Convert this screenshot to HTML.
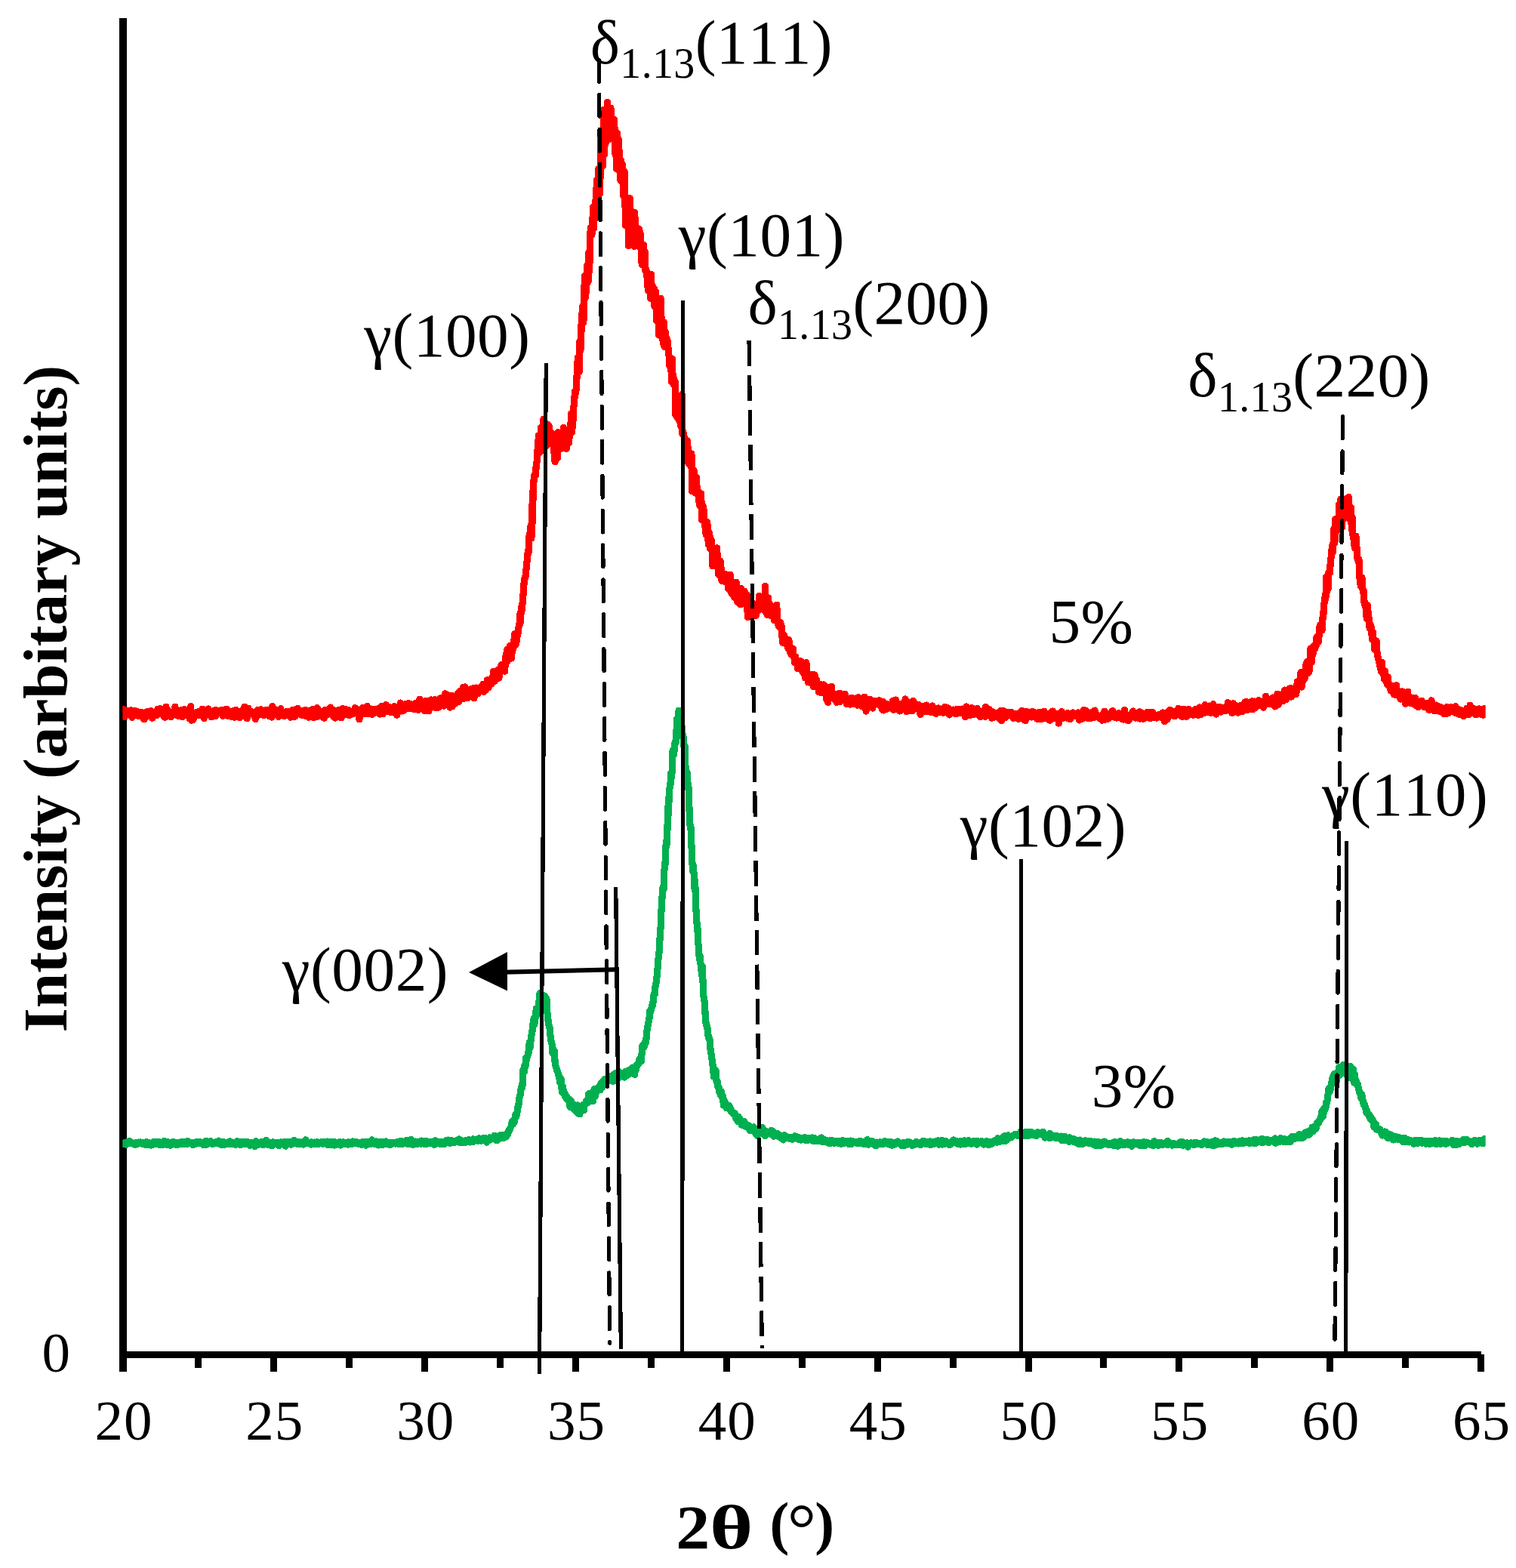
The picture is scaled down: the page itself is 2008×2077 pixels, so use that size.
<!DOCTYPE html>
<html lang="en">
<head>
<meta charset="utf-8">
<title>XRD patterns</title>
<style>
html,body{margin:0;padding:0;background:#fff;}
body{width:2008px;height:2077px;overflow:hidden;}
svg{display:block;}
text{font-family:"Liberation Serif","DejaVu Serif",serif;fill:#000;font-kerning:none;}
.t{font-size:75px;text-anchor:middle;letter-spacing:1px;}
.a{font-size:83.3px;letter-spacing:0.5px;}
.d{font-size:83.3px;letter-spacing:0.35px;}
.s{font-size:56px;}
.b{font-size:83.3px;font-weight:bold;}
</style>
</head>
<body>
<svg width="2008" height="2077" viewBox="0 0 2008 2077">
<rect width="2008" height="2077" fill="#fff"/>
<g fill="#000" shape-rendering="crispEdges">
<rect x="158" y="24" width="10" height="1793"/>
<rect x="158" y="1790" width="1804" height="9"/>
<rect x="358" y="1794" width="9" height="23"/>
<rect x="558" y="1794" width="9" height="23"/>
<rect x="758" y="1794" width="9" height="23"/>
<rect x="958" y="1794" width="9" height="23"/>
<rect x="1158" y="1794" width="9" height="23"/>
<rect x="1358" y="1794" width="9" height="23"/>
<rect x="1557" y="1794" width="9" height="23"/>
<rect x="1757" y="1794" width="9" height="23"/>
<rect x="1957" y="1794" width="9" height="23"/>
<rect x="258" y="1794" width="9" height="18"/>
<rect x="458" y="1794" width="9" height="18"/>
<rect x="658" y="1794" width="9" height="18"/>
<rect x="858" y="1794" width="9" height="18"/>
<rect x="1058" y="1794" width="9" height="18"/>
<rect x="1258" y="1794" width="9" height="18"/>
<rect x="1457" y="1794" width="9" height="18"/>
<rect x="1657" y="1794" width="9" height="18"/>
<rect x="1857" y="1794" width="9" height="18"/>
</g>
<clipPath id="plot"><rect x="162.3" y="0" width="1805.4" height="1790"/></clipPath>
<g clip-path="url(#plot)">
<polyline fill="none" stroke="#ff0000" stroke-width="9.2" stroke-linejoin="round" stroke-linecap="butt" shape-rendering="crispEdges" points="162.3,937.7 163.1,947.6 163.9,939.5 164.7,945.4 165.5,949.5 166.3,946.7 167.1,945.8 167.9,946.0 168.7,941.9 169.5,943.8 170.3,943.7 171.1,942.9 171.9,947.6 172.7,943.8 173.5,940.7 174.3,946.6 175.1,950.3 175.9,946.0 176.7,946.8 177.5,945.1 178.3,941.2 179.1,947.1 179.9,945.7 180.7,947.6 181.5,946.0 182.3,942.7 183.1,946.2 183.9,948.9 184.7,946.8 185.5,944.6 186.3,946.5 187.1,943.7 187.9,943.5 188.7,944.1 189.5,951.1 190.3,945.9 191.1,952.8 191.9,948.6 192.7,947.1 193.5,944.8 194.3,945.1 195.1,942.4 195.9,948.8 196.7,943.7 197.5,948.6 198.3,944.9 199.1,946.3 199.9,941.5 200.7,944.6 201.5,951.2 202.3,945.4 203.1,946.9 203.9,946.3 204.7,945.1 205.5,944.3 206.3,944.7 207.1,941.7 207.9,947.3 208.7,939.4 209.5,943.9 210.3,944.0 211.1,942.8 211.9,938.6 212.7,943.7 213.5,939.2 214.3,944.6 215.1,944.9 215.9,945.0 216.7,948.5 217.5,944.0 218.3,950.3 219.1,949.7 219.9,936.2 220.7,946.7 221.5,941.5 222.3,940.4 223.1,944.6 223.9,945.0 224.7,945.6 225.5,944.5 226.3,949.5 227.1,945.1 227.9,946.3 228.7,948.0 229.5,944.6 230.3,945.8 231.1,942.2 231.9,936.1 232.7,945.7 233.5,946.4 234.3,940.0 235.1,947.7 235.9,948.4 236.7,946.9 237.5,947.9 238.3,947.5 239.1,945.9 239.9,940.4 240.7,943.6 241.5,949.6 242.3,941.5 243.1,941.9 243.9,939.8 244.7,946.1 245.5,946.6 246.3,940.5 247.1,941.6 247.9,947.9 248.7,945.8 249.5,944.7 250.3,945.3 251.1,951.8 251.9,943.5 252.7,935.7 253.5,954.2 254.3,946.7 255.1,943.9 255.9,953.2 256.7,948.3 257.5,946.4 258.3,948.7 259.1,944.3 259.9,943.4 260.7,947.2 261.5,947.4 262.3,943.6 263.1,944.5 263.9,942.2 264.7,942.0 265.5,947.5 266.3,946.8 267.1,946.9 267.9,939.2 268.7,949.1 269.5,943.6 270.3,951.7 271.1,949.7 271.9,948.2 272.7,942.7 273.5,946.6 274.3,943.1 275.1,944.9 275.9,939.0 276.7,947.1 277.5,945.7 278.3,943.3 279.1,944.2 279.9,949.8 280.7,949.4 281.5,942.2 282.3,945.7 283.1,944.5 283.9,944.5 284.7,940.7 285.5,948.6 286.3,940.7 287.1,941.6 287.9,943.2 288.7,943.2 289.5,944.8 290.3,944.7 291.1,944.9 291.9,942.6 292.7,945.0 293.5,940.3 294.3,943.8 295.1,948.3 295.9,946.5 296.7,944.6 297.5,942.7 298.3,939.8 299.1,947.8 299.9,945.7 300.7,939.4 301.5,948.4 302.3,941.0 303.1,948.3 303.9,944.3 304.7,943.0 305.5,944.0 306.3,949.3 307.1,945.5 307.9,944.5 308.7,941.9 309.5,947.6 310.3,950.3 311.1,944.5 311.9,945.2 312.7,940.2 313.5,942.9 314.3,943.0 315.1,945.8 315.9,949.1 316.7,946.5 317.5,950.7 318.3,944.7 319.1,944.7 319.9,948.4 320.7,940.8 321.5,944.7 322.3,944.5 323.1,940.6 323.9,936.1 324.7,941.6 325.5,945.9 326.3,950.9 327.1,951.7 327.9,944.0 328.7,938.1 329.5,944.3 330.3,944.5 331.1,946.1 331.9,944.2 332.7,942.4 333.5,944.0 334.3,944.8 335.1,944.2 335.9,943.6 336.7,943.5 337.5,948.8 338.3,952.5 339.1,943.1 339.9,943.2 340.7,941.2 341.5,940.6 342.3,947.3 343.1,947.0 343.9,942.5 344.7,946.7 345.5,939.9 346.3,946.2 347.1,944.5 347.9,945.6 348.7,945.9 349.5,947.9 350.3,944.9 351.1,946.4 351.9,943.7 352.7,940.1 353.5,946.7 354.3,943.8 355.1,942.3 355.9,948.5 356.7,944.5 357.5,948.8 358.3,948.8 359.1,940.0 359.9,950.0 360.7,935.5 361.5,940.5 362.3,939.2 363.1,945.9 363.9,939.4 364.7,944.7 365.5,941.7 366.3,945.3 367.1,940.3 367.9,941.7 368.7,949.5 369.5,946.1 370.3,942.0 371.1,944.0 371.9,938.7 372.7,945.2 373.5,944.2 374.3,945.2 375.1,947.6 375.9,946.3 376.7,948.7 377.5,943.7 378.3,943.7 379.1,947.6 379.9,942.2 380.7,946.7 381.5,945.5 382.3,945.6 383.1,944.8 383.9,947.7 384.7,950.2 385.5,946.1 386.3,947.0 387.1,940.6 387.9,940.7 388.7,949.9 389.5,945.0 390.3,942.7 391.1,948.8 391.9,939.9 392.7,939.6 393.5,943.1 394.3,938.5 395.1,943.6 395.9,944.5 396.7,945.3 397.5,946.0 398.3,944.8 399.1,947.2 399.9,943.5 400.7,944.6 401.5,941.3 402.3,941.2 403.1,945.2 403.9,948.1 404.7,940.4 405.5,942.0 406.3,941.7 407.1,946.9 407.9,946.0 408.7,950.2 409.5,941.7 410.3,942.4 411.1,947.4 411.9,948.7 412.7,949.8 413.5,939.7 414.3,945.7 415.1,950.7 415.9,941.6 416.7,944.4 417.5,946.3 418.3,940.9 419.1,949.7 419.9,937.6 420.7,944.7 421.5,939.8 422.3,942.7 423.1,945.5 423.9,948.6 424.7,945.8 425.5,945.8 426.3,947.0 427.1,945.7 427.9,950.3 428.7,948.1 429.5,951.2 430.3,940.3 431.1,943.3 431.9,941.8 432.7,947.0 433.5,942.9 434.3,943.7 435.1,940.9 435.9,945.9 436.7,945.0 437.5,937.0 438.3,946.3 439.1,942.3 439.9,943.0 440.7,947.4 441.5,949.1 442.3,940.7 443.1,941.2 443.9,951.0 444.7,943.6 445.5,947.1 446.3,945.7 447.1,944.1 447.9,940.4 448.7,940.1 449.5,944.1 450.3,940.8 451.1,946.6 451.9,950.8 452.7,938.9 453.5,939.2 454.3,938.6 455.1,942.7 455.9,947.2 456.7,945.4 457.5,944.5 458.3,939.6 459.1,942.9 459.9,943.8 460.7,940.1 461.5,940.6 462.3,947.7 463.1,945.8 463.9,942.4 464.7,946.7 465.5,944.4 466.3,945.4 467.1,944.0 467.9,941.4 468.7,945.1 469.5,945.0 470.3,937.7 471.1,941.5 471.9,938.9 472.7,944.7 473.5,945.8 474.3,942.8 475.1,943.4 475.9,952.9 476.7,947.6 477.5,943.4 478.3,940.9 479.1,942.2 479.9,937.6 480.7,945.5 481.5,939.0 482.3,942.2 483.1,941.3 483.9,942.0 484.7,945.5 485.5,939.6 486.3,935.5 487.1,940.4 487.9,944.6 488.7,945.6 489.5,938.6 490.3,943.5 491.1,940.6 491.9,941.2 492.7,946.3 493.5,942.8 494.3,943.5 495.1,943.0 495.9,939.3 496.7,944.3 497.5,941.1 498.3,942.2 499.1,939.5 499.9,940.8 500.7,943.4 501.5,938.3 502.3,942.1 503.1,946.1 503.9,939.9 504.7,940.0 505.5,935.6 506.3,937.2 507.1,945.5 507.9,936.5 508.7,942.7 509.5,941.3 510.3,938.2 511.1,933.5 511.9,939.6 512.7,940.3 513.5,939.6 514.3,942.4 515.1,938.6 515.9,936.6 516.7,938.8 517.5,943.9 518.3,941.2 519.1,937.7 519.9,941.3 520.7,943.1 521.5,937.6 522.3,935.6 523.1,939.7 523.9,940.0 524.7,938.8 525.5,947.2 526.3,942.1 527.1,941.4 527.9,943.1 528.7,934.9 529.5,941.2 530.3,931.1 531.1,938.2 531.9,935.4 532.7,942.0 533.5,937.8 534.3,935.7 535.1,938.7 535.9,940.3 536.7,935.2 537.5,932.6 538.3,936.6 539.1,938.3 539.9,937.3 540.7,931.6 541.5,937.3 542.3,935.3 543.1,938.6 543.9,935.8 544.7,932.7 545.5,937.0 546.3,935.5 547.1,938.3 547.9,939.3 548.7,936.4 549.5,933.1 550.3,931.3 551.1,937.2 551.9,936.7 552.7,933.7 553.5,940.4 554.3,931.1 555.1,934.0 555.9,926.3 556.7,935.4 557.5,934.2 558.3,932.0 559.1,928.9 559.9,933.1 560.7,933.1 561.5,933.9 562.3,941.8 563.1,928.7 563.9,936.2 564.7,933.2 565.5,928.8 566.3,928.9 567.1,932.4 567.9,941.9 568.7,931.0 569.5,931.8 570.3,935.0 571.1,926.9 571.9,928.1 572.7,930.3 573.5,931.0 574.3,936.9 575.1,931.8 575.9,926.6 576.7,928.6 577.5,937.6 578.3,929.0 579.1,936.3 579.9,930.9 580.7,937.2 581.5,932.0 582.3,933.8 583.1,925.0 583.9,926.1 584.7,926.7 585.5,924.5 586.3,932.6 587.1,931.3 587.9,935.1 588.7,923.6 589.5,918.8 590.3,923.8 591.1,925.4 591.9,930.2 592.7,926.6 593.5,930.3 594.3,921.0 595.1,922.6 595.9,937.0 596.7,929.1 597.5,923.2 598.3,921.1 599.1,935.8 599.9,929.7 600.7,928.1 601.5,931.2 602.3,925.5 603.1,922.3 603.9,931.3 604.7,926.8 605.5,926.6 606.3,919.2 607.1,917.6 607.9,929.2 608.7,924.2 609.5,915.5 610.3,924.4 611.1,918.5 611.9,921.6 612.7,918.1 613.5,910.4 614.3,925.2 615.1,919.5 615.9,909.9 616.7,913.2 617.5,913.8 618.3,918.5 619.1,921.0 619.9,924.5 620.7,915.7 621.5,915.9 622.3,916.3 623.1,912.8 623.9,919.2 624.7,919.4 625.5,916.2 626.3,919.5 627.1,911.4 627.9,924.8 628.7,912.3 629.5,916.9 630.3,911.0 631.1,913.5 631.9,911.7 632.7,919.0 633.5,911.6 634.3,915.9 635.1,911.0 635.9,911.4 636.7,913.1 637.5,915.8 638.3,910.2 639.1,909.2 639.9,906.3 640.7,916.3 641.5,913.8 642.3,911.2 643.1,914.6 643.9,909.8 644.7,911.0 645.5,900.7 646.3,902.1 647.1,911.0 647.9,904.8 648.7,900.5 649.5,903.9 650.3,901.3 651.1,906.2 651.9,903.8 652.7,900.0 653.5,889.4 654.3,892.5 655.1,902.4 655.9,894.4 656.7,891.8 657.5,893.9 658.3,894.0 659.1,890.1 659.9,886.9 660.7,898.2 661.5,894.5 662.3,888.2 663.1,889.7 663.9,880.8 664.7,883.0 665.5,888.7 666.3,886.2 667.1,883.3 667.9,887.3 668.7,889.1 669.5,871.8 670.3,867.0 671.1,876.8 671.9,860.0 672.7,874.8 673.5,869.9 674.3,872.1 675.1,855.8 675.9,859.5 676.7,860.1 677.5,872.0 678.3,859.4 679.1,860.2 679.9,858.1 680.7,853.1 681.5,839.9 682.3,844.9 683.1,854.2 683.9,850.5 684.7,843.3 685.5,841.5 686.3,837.9 687.1,830.1 687.9,828.8 688.7,814.2 689.5,823.3 690.3,804.0 691.1,809.0 691.9,800.5 692.7,791.8 693.5,780.7 694.3,769.2 695.1,765.7 695.9,764.8 696.7,756.2 697.5,749.8 698.3,740.8 699.1,732.5 699.9,733.1 700.7,712.2 701.5,707.7 702.3,711.7 703.1,696.1 703.9,712.8 704.7,669.1 705.5,691.5 706.3,637.2 707.1,638.1 707.9,628.7 708.7,630.2 709.5,629.8 710.3,614.8 711.1,611.6 711.9,598.4 712.7,587.8 713.5,576.7 714.3,588.6 715.1,599.4 715.9,598.1 716.7,566.2 717.5,577.3 718.3,576.7 719.1,573.4 719.9,555.3 720.7,555.1 721.5,563.5 722.3,581.9 723.1,562.2 723.9,590.4 724.7,574.2 725.5,562.7 726.3,568.6 727.1,564.7 727.9,579.9 728.7,575.6 729.5,578.5 730.3,573.0 731.1,573.7 731.9,581.2 732.7,585.3 733.5,598.7 734.3,576.6 735.1,611.8 735.9,594.1 736.7,599.7 737.5,581.7 738.3,606.6 739.1,572.5 739.9,575.8 740.7,581.2 741.5,586.9 742.3,577.2 743.1,594.4 743.9,584.6 744.7,580.1 745.5,593.4 746.3,566.6 747.1,571.3 747.9,586.7 748.7,588.5 749.5,580.2 750.3,594.3 751.1,571.9 751.9,570.3 752.7,586.9 753.5,587.1 754.3,575.2 755.1,571.8 755.9,564.1 756.7,547.7 757.5,572.3 758.3,564.7 759.1,555.2 759.9,539.4 760.7,531.1 761.5,518.3 762.3,521.1 763.1,517.0 763.9,502.0 764.7,482.7 765.5,473.7 766.3,478.4 767.1,492.4 767.9,452.1 768.7,464.2 769.5,461.2 770.3,420.3 771.1,414.0 771.9,404.9 772.7,427.1 773.5,417.4 774.3,365.3 775.1,395.1 775.9,379.9 776.7,386.6 777.5,351.8 778.3,358.5 779.1,373.0 779.9,334.0 780.7,359.2 781.5,322.3 782.3,301.8 783.1,305.9 783.9,310.7 784.7,300.5 785.5,274.3 786.3,302.7 787.1,289.9 787.9,288.7 788.7,265.7 789.5,280.0 790.3,238.6 791.1,241.0 791.9,264.7 792.7,223.8 793.5,224.8 794.3,256.5 795.1,231.6 795.9,182.0 796.7,218.0 797.5,181.5 798.3,219.6 799.1,196.0 799.9,145.3 800.7,204.9 801.5,164.3 802.3,188.6 803.1,166.6 803.9,183.7 804.7,135.4 805.5,160.3 806.3,184.4 807.1,151.4 807.9,183.4 808.7,143.1 809.5,145.5 810.3,164.5 811.1,180.0 811.9,162.5 812.7,164.8 813.5,158.3 814.3,177.9 815.1,205.2 815.9,198.5 816.7,224.1 817.5,176.5 818.3,193.1 819.1,184.2 819.9,202.8 820.7,200.6 821.5,238.2 822.3,212.4 823.1,240.0 823.9,216.7 824.7,224.1 825.5,259.2 826.3,246.9 827.1,227.0 827.9,266.1 828.7,298.7 829.5,275.7 830.3,267.0 831.1,279.1 831.9,279.1 832.7,325.7 833.5,296.9 834.3,262.7 835.1,296.1 835.9,287.1 836.7,279.4 837.5,307.8 838.3,280.9 839.1,312.7 839.9,326.5 840.7,281.8 841.5,300.8 842.3,309.9 843.1,301.7 843.9,321.3 844.7,317.7 845.5,316.1 846.3,303.1 847.1,319.1 847.9,308.1 848.7,319.2 849.5,340.9 850.3,350.8 851.1,345.5 851.9,342.4 852.7,324.7 853.5,343.3 854.3,334.4 855.1,359.4 855.9,356.7 856.7,365.7 857.5,367.9 858.3,385.0 859.1,370.4 859.9,372.2 860.7,381.5 861.5,395.2 862.3,363.2 863.1,379.2 863.9,385.2 864.7,379.5 865.5,382.8 866.3,381.9 867.1,406.6 867.9,389.9 868.7,386.5 869.5,424.6 870.3,411.5 871.1,412.3 871.9,403.1 872.7,444.0 873.5,411.5 874.3,408.4 875.1,395.2 875.9,422.9 876.7,421.6 877.5,441.4 878.3,455.0 879.1,426.7 879.9,459.2 880.7,452.1 881.5,440.1 882.3,450.7 883.1,453.9 883.9,450.0 884.7,459.0 885.5,465.7 886.3,474.1 887.1,485.4 887.9,478.2 888.7,477.9 889.5,506.0 890.3,475.5 891.1,499.6 891.9,499.1 892.7,510.2 893.5,507.3 894.3,505.3 895.1,550.5 895.9,537.5 896.7,530.5 897.5,553.5 898.3,537.7 899.1,535.0 899.9,558.1 900.7,534.0 901.5,564.3 902.3,538.5 903.1,522.3 903.9,575.0 904.7,571.5 905.5,575.9 906.3,578.9 907.1,586.8 907.9,585.0 908.7,583.7 909.5,610.7 910.3,583.8 911.1,593.5 911.9,614.3 912.7,604.9 913.5,610.3 914.3,600.1 915.1,618.6 915.9,601.3 916.7,650.7 917.5,632.2 918.3,632.8 919.1,623.3 919.9,644.2 920.7,653.0 921.5,631.3 922.3,632.1 923.1,646.4 923.9,654.5 924.7,651.4 925.5,663.9 926.3,652.2 927.1,670.3 927.9,665.4 928.7,654.0 929.5,688.6 930.3,677.4 931.1,669.9 931.9,673.8 932.7,684.5 933.5,693.1 934.3,700.1 935.1,707.8 935.9,695.3 936.7,691.5 937.5,702.8 938.3,721.5 939.1,704.9 939.9,709.0 940.7,727.2 941.5,725.0 942.3,715.7 943.1,726.5 943.9,749.8 944.7,729.8 945.5,746.2 946.3,737.6 947.1,726.4 947.9,737.6 948.7,748.9 949.5,725.8 950.3,737.9 951.1,754.0 951.9,761.3 952.7,758.8 953.5,753.2 954.3,743.6 955.1,754.0 955.9,769.4 956.7,761.3 957.5,767.1 958.3,769.2 959.1,770.1 959.9,767.5 960.7,760.6 961.5,760.7 962.3,763.3 963.1,763.1 963.9,765.4 964.7,780.2 965.5,770.5 966.3,770.6 967.1,761.3 967.9,778.7 968.7,785.4 969.5,786.8 970.3,784.4 971.1,788.2 971.9,779.2 972.7,791.4 973.5,786.3 974.3,775.8 975.1,771.1 975.9,782.2 976.7,797.3 977.5,784.8 978.3,796.5 979.1,782.7 979.9,800.3 980.7,798.6 981.5,779.6 982.3,800.2 983.1,786.5 983.9,797.1 984.7,790.6 985.5,784.4 986.3,783.4 987.1,790.7 987.9,798.0 988.7,793.1 989.5,788.0 990.3,817.9 991.1,795.1 991.9,807.0 992.7,813.8 993.5,797.8 994.3,812.8 995.1,806.9 995.9,800.5 996.7,806.0 997.5,799.2 998.3,815.4 999.1,815.4 999.9,806.6 1000.7,812.6 1001.5,815.3 1002.3,807.1 1003.1,807.4 1003.9,808.8 1004.7,808.0 1005.5,789.4 1006.3,793.2 1007.1,790.5 1007.9,805.9 1008.7,806.8 1009.5,795.7 1010.3,804.1 1011.1,804.5 1011.9,801.1 1012.7,809.1 1013.5,776.6 1014.3,804.8 1015.1,795.3 1015.9,814.4 1016.7,797.7 1017.5,791.8 1018.3,801.3 1019.1,798.7 1019.9,807.0 1020.7,815.3 1021.5,805.9 1022.3,804.3 1023.1,808.2 1023.9,813.6 1024.7,804.1 1025.5,821.6 1026.3,809.3 1027.1,807.3 1027.9,816.6 1028.7,801.1 1029.5,814.1 1030.3,825.9 1031.1,828.1 1031.9,830.3 1032.7,830.5 1033.5,824.1 1034.3,827.0 1035.1,829.0 1035.9,842.0 1036.7,851.5 1037.5,845.9 1038.3,841.0 1039.1,843.0 1039.9,850.8 1040.7,845.6 1041.5,848.5 1042.3,854.3 1043.1,849.0 1043.9,858.7 1044.7,847.7 1045.5,851.9 1046.3,861.6 1047.1,865.1 1047.9,866.9 1048.7,866.8 1049.5,864.0 1050.3,859.0 1051.1,870.2 1051.9,871.3 1052.7,878.0 1053.5,869.8 1054.3,877.2 1055.1,873.9 1055.9,875.4 1056.7,885.8 1057.5,884.5 1058.3,882.2 1059.1,880.8 1059.9,882.0 1060.7,875.8 1061.5,880.4 1062.3,883.7 1063.1,890.1 1063.9,886.4 1064.7,880.3 1065.5,887.3 1066.3,898.0 1067.1,879.4 1067.9,877.6 1068.7,889.5 1069.5,892.2 1070.3,903.9 1071.1,894.4 1071.9,898.9 1072.7,901.4 1073.5,903.7 1074.3,905.1 1075.1,893.5 1075.9,901.8 1076.7,898.0 1077.5,909.6 1078.3,908.7 1079.1,893.9 1079.9,907.3 1080.7,906.8 1081.5,900.8 1082.3,907.3 1083.1,907.4 1083.9,906.1 1084.7,916.8 1085.5,914.3 1086.3,906.6 1087.1,914.4 1087.9,917.9 1088.7,915.1 1089.5,913.3 1090.3,909.8 1091.1,907.0 1091.9,917.5 1092.7,917.4 1093.5,913.6 1094.3,909.8 1095.1,927.5 1095.9,914.1 1096.7,930.3 1097.5,916.1 1098.3,924.9 1099.1,923.4 1099.9,924.2 1100.7,920.2 1101.5,909.3 1102.3,919.8 1103.1,923.8 1103.9,925.5 1104.7,920.2 1105.5,922.6 1106.3,923.9 1107.1,919.3 1107.9,930.3 1108.7,926.0 1109.5,927.7 1110.3,923.6 1111.1,926.8 1111.9,918.2 1112.7,929.6 1113.5,923.7 1114.3,926.6 1115.1,924.0 1115.9,922.2 1116.7,921.7 1117.5,920.2 1118.3,926.8 1119.1,919.2 1119.9,924.6 1120.7,923.2 1121.5,932.9 1122.3,929.9 1123.1,930.4 1123.9,928.2 1124.7,931.0 1125.5,931.1 1126.3,933.0 1127.1,930.6 1127.9,924.2 1128.7,925.8 1129.5,925.7 1130.3,932.6 1131.1,930.3 1131.9,926.2 1132.7,928.2 1133.5,925.5 1134.3,930.8 1135.1,931.1 1135.9,934.2 1136.7,923.7 1137.5,927.6 1138.3,929.5 1139.1,927.0 1139.9,927.6 1140.7,925.5 1141.5,935.7 1142.3,928.1 1143.1,927.5 1143.9,928.1 1144.7,923.1 1145.5,935.5 1146.3,927.5 1147.1,942.1 1147.9,934.6 1148.7,935.0 1149.5,930.3 1150.3,935.4 1151.1,935.0 1151.9,926.3 1152.7,929.2 1153.5,934.1 1154.3,931.7 1155.1,931.3 1155.9,938.1 1156.7,928.2 1157.5,929.5 1158.3,932.3 1159.1,928.7 1159.9,928.4 1160.7,929.6 1161.5,931.1 1162.3,931.6 1163.1,933.0 1163.9,928.0 1164.7,927.9 1165.5,928.6 1166.3,934.6 1167.1,936.2 1167.9,932.2 1168.7,939.7 1169.5,929.6 1170.3,941.0 1171.1,933.4 1171.9,934.2 1172.7,938.3 1173.5,933.0 1174.3,936.4 1175.1,939.1 1175.9,932.9 1176.7,936.2 1177.5,934.2 1178.3,933.7 1179.1,934.5 1179.9,936.9 1180.7,935.2 1181.5,933.4 1182.3,928.2 1183.1,940.1 1183.9,940.0 1184.7,932.3 1185.5,938.5 1186.3,927.0 1187.1,933.8 1187.9,934.6 1188.7,934.0 1189.5,940.0 1190.3,933.7 1191.1,932.1 1191.9,942.0 1192.7,940.0 1193.5,940.9 1194.3,935.2 1195.1,933.5 1195.9,936.5 1196.7,937.8 1197.5,936.7 1198.3,935.3 1199.1,925.9 1199.9,939.7 1200.7,942.6 1201.5,931.3 1202.3,938.1 1203.1,940.4 1203.9,935.5 1204.7,941.2 1205.5,930.5 1206.3,932.0 1207.1,935.0 1207.9,937.0 1208.7,941.8 1209.5,928.6 1210.3,937.6 1211.1,937.1 1211.9,931.9 1212.7,934.6 1213.5,935.2 1214.3,935.4 1215.1,935.8 1215.9,933.1 1216.7,939.3 1217.5,938.3 1218.3,936.6 1219.1,946.4 1219.9,935.1 1220.7,942.2 1221.5,938.7 1222.3,943.4 1223.1,938.2 1223.9,935.6 1224.7,939.6 1225.5,937.8 1226.3,937.9 1227.1,934.1 1227.9,942.6 1228.7,938.2 1229.5,937.4 1230.3,940.5 1231.1,940.4 1231.9,939.7 1232.7,940.0 1233.5,943.8 1234.3,935.7 1235.1,935.0 1235.9,940.4 1236.7,937.3 1237.5,940.7 1238.3,940.4 1239.1,943.0 1239.9,945.5 1240.7,942.6 1241.5,940.8 1242.3,940.2 1243.1,937.9 1243.9,943.6 1244.7,942.0 1245.5,939.8 1246.3,940.4 1247.1,941.5 1247.9,940.7 1248.7,942.5 1249.5,944.4 1250.3,941.4 1251.1,936.3 1251.9,942.7 1252.7,943.9 1253.5,940.7 1254.3,942.2 1255.1,941.6 1255.9,937.8 1256.7,943.2 1257.5,947.0 1258.3,941.3 1259.1,942.4 1259.9,945.1 1260.7,944.9 1261.5,940.8 1262.3,940.0 1263.1,943.6 1263.9,944.3 1264.7,945.4 1265.5,943.4 1266.3,942.3 1267.1,945.5 1267.9,939.3 1268.7,941.7 1269.5,941.0 1270.3,943.0 1271.1,942.0 1271.9,941.4 1272.7,944.8 1273.5,943.9 1274.3,939.1 1275.1,941.9 1275.9,941.2 1276.7,943.5 1277.5,940.0 1278.3,949.8 1279.1,942.9 1279.9,936.0 1280.7,943.3 1281.5,944.7 1282.3,944.7 1283.1,947.8 1283.9,947.9 1284.7,939.5 1285.5,943.2 1286.3,942.8 1287.1,937.5 1287.9,943.5 1288.7,945.9 1289.5,943.8 1290.3,946.6 1291.1,940.9 1291.9,940.9 1292.7,943.4 1293.5,944.0 1294.3,938.3 1295.1,940.9 1295.9,940.8 1296.7,947.8 1297.5,945.0 1298.3,949.6 1299.1,942.3 1299.9,945.0 1300.7,943.5 1301.5,944.9 1302.3,941.6 1303.1,942.8 1303.9,942.6 1304.7,949.4 1305.5,936.6 1306.3,946.2 1307.1,945.0 1307.9,946.6 1308.7,942.9 1309.5,942.2 1310.3,939.4 1311.1,944.8 1311.9,942.2 1312.7,944.3 1313.5,951.1 1314.3,942.9 1315.1,946.7 1315.9,945.9 1316.7,945.7 1317.5,950.0 1318.3,944.9 1319.1,946.6 1319.9,947.9 1320.7,946.1 1321.5,944.1 1322.3,945.8 1323.1,951.5 1323.9,944.2 1324.7,943.9 1325.5,941.4 1326.3,954.6 1327.1,945.5 1327.9,946.7 1328.7,943.4 1329.5,941.7 1330.3,948.5 1331.1,946.3 1331.9,950.4 1332.7,946.6 1333.5,945.3 1334.3,944.0 1335.1,946.8 1335.9,943.6 1336.7,944.2 1337.5,947.1 1338.3,946.5 1339.1,944.8 1339.9,943.8 1340.7,946.2 1341.5,949.7 1342.3,951.4 1343.1,946.3 1343.9,946.7 1344.7,949.0 1345.5,945.9 1346.3,946.6 1347.1,950.9 1347.9,950.0 1348.7,952.4 1349.5,951.8 1350.3,944.8 1351.1,945.3 1351.9,946.8 1352.7,941.9 1353.5,950.0 1354.3,941.7 1355.1,948.0 1355.9,942.3 1356.7,953.7 1357.5,950.5 1358.3,954.5 1359.1,946.5 1359.9,946.9 1360.7,942.8 1361.5,944.4 1362.3,949.5 1363.1,947.4 1363.9,946.7 1364.7,949.0 1365.5,944.9 1366.3,950.0 1367.1,944.0 1367.9,942.2 1368.7,949.0 1369.5,949.1 1370.3,946.4 1371.1,946.3 1371.9,944.7 1372.7,950.6 1373.5,952.3 1374.3,945.7 1375.1,951.4 1375.9,947.7 1376.7,943.3 1377.5,946.4 1378.3,952.9 1379.1,948.8 1379.9,952.6 1380.7,945.7 1381.5,947.7 1382.3,946.3 1383.1,942.2 1383.9,951.9 1384.7,948.1 1385.5,947.7 1386.3,948.5 1387.1,947.6 1387.9,948.9 1388.7,945.2 1389.5,948.1 1390.3,954.3 1391.1,945.5 1391.9,944.3 1392.7,947.4 1393.5,952.3 1394.3,942.0 1395.1,950.3 1395.9,946.2 1396.7,951.3 1397.5,947.5 1398.3,950.4 1399.1,945.1 1399.9,946.8 1400.7,946.5 1401.5,950.1 1402.3,958.1 1403.1,947.8 1403.9,951.7 1404.7,952.4 1405.5,944.8 1406.3,942.5 1407.1,951.8 1407.9,950.9 1408.7,946.9 1409.5,947.3 1410.3,947.4 1411.1,948.3 1411.9,947.4 1412.7,949.5 1413.5,951.3 1414.3,944.6 1415.1,947.6 1415.9,948.2 1416.7,946.5 1417.5,952.8 1418.3,950.6 1419.1,949.9 1419.9,944.7 1420.7,943.9 1421.5,948.8 1422.3,948.8 1423.1,948.2 1423.9,947.9 1424.7,947.6 1425.5,948.9 1426.3,946.8 1427.1,947.5 1427.9,944.0 1428.7,951.1 1429.5,954.0 1430.3,948.5 1431.1,945.2 1431.9,948.1 1432.7,948.9 1433.5,952.1 1434.3,948.3 1435.1,940.4 1435.9,946.4 1436.7,947.6 1437.5,948.1 1438.3,943.9 1439.1,941.7 1439.9,947.2 1440.7,951.4 1441.5,948.2 1442.3,948.5 1443.1,950.4 1443.9,951.9 1444.7,950.0 1445.5,947.4 1446.3,943.4 1447.1,949.8 1447.9,947.1 1448.7,950.8 1449.5,945.1 1450.3,941.1 1451.1,945.1 1451.9,946.9 1452.7,947.1 1453.5,948.4 1454.3,948.6 1455.1,948.1 1455.9,950.6 1456.7,951.5 1457.5,948.3 1458.3,948.4 1459.1,949.2 1459.9,954.2 1460.7,948.0 1461.5,944.7 1462.3,945.0 1463.1,942.1 1463.9,953.1 1464.7,948.3 1465.5,948.9 1466.3,945.0 1467.1,952.5 1467.9,952.3 1468.7,947.7 1469.5,949.8 1470.3,946.3 1471.1,949.9 1471.9,947.1 1472.7,949.3 1473.5,941.7 1474.3,945.4 1475.1,945.0 1475.9,947.4 1476.7,950.4 1477.5,945.1 1478.3,951.0 1479.1,951.0 1479.9,948.4 1480.7,945.6 1481.5,949.8 1482.3,944.7 1483.1,946.3 1483.9,947.7 1484.7,949.9 1485.5,947.1 1486.3,952.2 1487.1,952.2 1487.9,953.1 1488.7,952.0 1489.5,940.5 1490.3,951.0 1491.1,949.0 1491.9,951.3 1492.7,948.1 1493.5,954.1 1494.3,953.8 1495.1,954.3 1495.9,948.1 1496.7,947.6 1497.5,946.2 1498.3,949.8 1499.1,949.1 1499.9,945.0 1500.7,942.0 1501.5,948.3 1502.3,949.3 1503.1,943.9 1503.9,951.0 1504.7,948.5 1505.5,948.3 1506.3,949.1 1507.1,947.8 1507.9,951.5 1508.7,943.1 1509.5,942.8 1510.3,952.2 1511.1,950.2 1511.9,946.2 1512.7,944.7 1513.5,952.4 1514.3,949.4 1515.1,950.4 1515.9,950.4 1516.7,951.3 1517.5,946.4 1518.3,949.7 1519.1,946.2 1519.9,943.1 1520.7,945.5 1521.5,943.3 1522.3,946.0 1523.1,948.9 1523.9,951.7 1524.7,945.2 1525.5,943.6 1526.3,945.6 1527.1,943.8 1527.9,949.3 1528.7,948.1 1529.5,947.2 1530.3,950.5 1531.1,949.9 1531.9,951.0 1532.7,949.3 1533.5,948.9 1534.3,947.6 1535.1,946.6 1535.9,947.3 1536.7,946.2 1537.5,948.0 1538.3,950.9 1539.1,950.4 1539.9,944.0 1540.7,948.4 1541.5,948.0 1542.3,955.8 1543.1,946.2 1543.9,946.4 1544.7,947.1 1545.5,943.8 1546.3,952.5 1547.1,947.9 1547.9,948.6 1548.7,948.7 1549.5,940.4 1550.3,943.2 1551.1,944.5 1551.9,943.8 1552.7,941.9 1553.5,943.3 1554.3,943.6 1555.1,948.4 1555.9,942.7 1556.7,948.6 1557.5,946.1 1558.3,941.9 1559.1,941.7 1559.9,941.0 1560.7,938.5 1561.5,941.4 1562.3,947.3 1563.1,939.6 1563.9,948.5 1564.7,942.8 1565.5,949.4 1566.3,944.0 1567.1,947.6 1567.9,939.3 1568.7,946.9 1569.5,941.0 1570.3,945.7 1571.1,949.4 1571.9,948.9 1572.7,944.5 1573.5,947.4 1574.3,939.2 1575.1,941.0 1575.9,944.3 1576.7,944.2 1577.5,946.7 1578.3,943.4 1579.1,941.7 1579.9,945.2 1580.7,947.3 1581.5,943.4 1582.3,945.5 1583.1,942.7 1583.9,939.3 1584.7,944.3 1585.5,944.0 1586.3,946.1 1587.1,947.5 1587.9,946.6 1588.7,937.0 1589.5,940.3 1590.3,946.9 1591.1,945.7 1591.9,941.4 1592.7,941.7 1593.5,940.9 1594.3,944.1 1595.1,944.3 1595.9,933.7 1596.7,938.1 1597.5,937.4 1598.3,943.8 1599.1,942.4 1599.9,943.6 1600.7,936.9 1601.5,935.1 1602.3,940.1 1603.1,940.1 1603.9,944.6 1604.7,938.8 1605.5,944.0 1606.3,943.0 1607.1,932.8 1607.9,939.8 1608.7,938.3 1609.5,938.7 1610.3,938.0 1611.1,946.1 1611.9,938.6 1612.7,937.5 1613.5,941.3 1614.3,936.3 1615.1,936.3 1615.9,939.0 1616.7,943.0 1617.5,942.3 1618.3,942.2 1619.1,941.5 1619.9,937.1 1620.7,938.5 1621.5,938.4 1622.3,937.6 1623.1,940.2 1623.9,941.6 1624.7,940.7 1625.5,937.0 1626.3,930.7 1627.1,935.6 1627.9,935.3 1628.7,935.9 1629.5,939.7 1630.3,937.9 1631.1,940.3 1631.9,944.6 1632.7,938.6 1633.5,931.8 1634.3,934.5 1635.1,939.2 1635.9,937.3 1636.7,938.5 1637.5,934.7 1638.3,936.8 1639.1,937.3 1639.9,944.1 1640.7,941.1 1641.5,938.1 1642.3,934.8 1643.1,938.2 1643.9,936.8 1644.7,936.9 1645.5,942.4 1646.3,939.0 1647.1,941.0 1647.9,936.7 1648.7,930.4 1649.5,938.7 1650.3,929.4 1651.1,940.6 1651.9,936.9 1652.7,933.7 1653.5,936.8 1654.3,936.0 1655.1,934.1 1655.9,936.8 1656.7,939.3 1657.5,935.3 1658.3,928.9 1659.1,934.6 1659.9,939.3 1660.7,932.8 1661.5,929.0 1662.3,937.9 1663.1,932.5 1663.9,930.4 1664.7,933.7 1665.5,934.7 1666.3,929.2 1667.1,927.4 1667.9,930.8 1668.7,933.4 1669.5,934.2 1670.3,932.2 1671.1,929.8 1671.9,931.3 1672.7,934.7 1673.5,937.2 1674.3,929.6 1675.1,927.8 1675.9,931.9 1676.7,922.2 1677.5,929.9 1678.3,930.5 1679.1,932.3 1679.9,931.1 1680.7,930.5 1681.5,928.8 1682.3,929.2 1683.1,932.5 1683.9,925.7 1684.7,928.2 1685.5,924.1 1686.3,924.4 1687.1,929.2 1687.9,929.8 1688.7,936.0 1689.5,929.0 1690.3,925.2 1691.1,924.3 1691.9,919.3 1692.7,930.0 1693.5,933.1 1694.3,926.9 1695.1,929.8 1695.9,928.3 1696.7,927.3 1697.5,919.9 1698.3,921.2 1699.1,928.6 1699.9,920.3 1700.7,924.8 1701.5,914.1 1702.3,922.5 1703.1,922.2 1703.9,926.3 1704.7,917.3 1705.5,921.9 1706.3,918.6 1707.1,919.9 1707.9,912.3 1708.7,919.9 1709.5,911.6 1710.3,923.1 1711.1,914.8 1711.9,920.9 1712.7,916.7 1713.5,917.3 1714.3,912.9 1715.1,911.9 1715.9,913.4 1716.7,919.7 1717.5,912.0 1718.3,903.0 1719.1,911.1 1719.9,901.6 1720.7,905.2 1721.5,901.9 1722.3,901.8 1723.1,890.6 1723.9,910.0 1724.7,907.6 1725.5,898.2 1726.3,901.0 1727.1,892.0 1727.9,899.4 1728.7,891.9 1729.5,881.0 1730.3,887.0 1731.1,876.7 1731.9,890.5 1732.7,889.4 1733.5,891.1 1734.3,887.8 1735.1,878.6 1735.9,858.9 1736.7,876.8 1737.5,877.3 1738.3,863.1 1739.1,865.5 1739.9,861.7 1740.7,854.9 1741.5,859.9 1742.3,855.5 1743.1,856.3 1743.9,844.0 1744.7,848.9 1745.5,842.8 1746.3,850.1 1747.1,841.9 1747.9,830.3 1748.7,827.5 1749.5,827.4 1750.3,827.5 1751.1,834.6 1751.9,817.7 1752.7,818.7 1753.5,801.1 1754.3,797.8 1755.1,790.0 1755.9,792.8 1756.7,764.0 1757.5,784.0 1758.3,777.7 1759.1,779.8 1759.9,758.7 1760.7,756.6 1761.5,758.6 1762.3,743.3 1763.1,738.6 1763.9,728.9 1764.7,722.3 1765.5,731.0 1766.3,714.6 1767.1,699.6 1767.9,719.0 1768.7,687.5 1769.5,695.9 1770.3,691.3 1771.1,694.6 1771.9,694.4 1772.7,702.2 1773.5,668.8 1774.3,668.7 1775.1,665.3 1775.9,661.4 1776.7,684.9 1777.5,698.1 1778.3,667.9 1779.1,670.5 1779.9,674.7 1780.7,677.9 1781.5,686.1 1782.3,664.9 1783.1,674.8 1783.9,660.1 1784.7,672.9 1785.5,666.7 1786.3,658.6 1787.1,670.9 1787.9,688.1 1788.7,687.6 1789.5,672.8 1790.3,701.2 1791.1,685.7 1791.9,708.7 1792.7,713.3 1793.5,716.0 1794.3,726.0 1795.1,721.9 1795.9,710.3 1796.7,718.4 1797.5,739.0 1798.3,739.6 1799.1,743.5 1799.9,740.8 1800.7,765.0 1801.5,768.5 1802.3,776.5 1803.1,767.2 1803.9,764.8 1804.7,777.2 1805.5,785.1 1806.3,782.9 1807.1,798.7 1807.9,801.6 1808.7,799.6 1809.5,812.3 1810.3,819.8 1811.1,801.6 1811.9,809.7 1812.7,813.4 1813.5,828.1 1814.3,832.2 1815.1,827.4 1815.9,829.1 1816.7,836.4 1817.5,847.2 1818.3,837.1 1819.1,848.4 1819.9,847.4 1820.7,860.3 1821.5,857.5 1822.3,855.1 1823.1,849.0 1823.9,863.4 1824.7,869.1 1825.5,871.1 1826.3,876.1 1827.1,875.9 1827.9,882.9 1828.7,885.1 1829.5,889.7 1830.3,877.3 1831.1,886.1 1831.9,887.3 1832.7,891.3 1833.5,899.9 1834.3,888.8 1835.1,900.8 1835.9,898.2 1836.7,903.3 1837.5,907.0 1838.3,896.8 1839.1,908.6 1839.9,907.2 1840.7,906.2 1841.5,912.6 1842.3,915.1 1843.1,910.3 1843.9,910.8 1844.7,908.4 1845.5,910.2 1846.3,920.0 1847.1,911.7 1847.9,914.9 1848.7,920.9 1849.5,907.8 1850.3,915.8 1851.1,914.2 1851.9,914.9 1852.7,920.4 1853.5,920.0 1854.3,921.8 1855.1,926.1 1855.9,916.7 1856.7,915.9 1857.5,920.3 1858.3,916.4 1859.1,922.2 1859.9,920.7 1860.7,920.0 1861.5,932.1 1862.3,921.1 1863.1,925.7 1863.9,927.2 1864.7,916.2 1865.5,926.5 1866.3,930.7 1867.1,927.7 1867.9,931.4 1868.7,927.8 1869.5,924.5 1870.3,924.6 1871.1,928.1 1871.9,932.3 1872.7,926.1 1873.5,928.2 1874.3,924.2 1875.1,930.9 1875.9,934.9 1876.7,929.3 1877.5,934.8 1878.3,936.6 1879.1,936.1 1879.9,929.9 1880.7,933.7 1881.5,934.2 1882.3,932.3 1883.1,928.2 1883.9,933.7 1884.7,930.9 1885.5,935.7 1886.3,931.8 1887.1,936.8 1887.9,931.2 1888.7,931.8 1889.5,933.5 1890.3,934.4 1891.1,937.7 1891.9,939.2 1892.7,940.4 1893.5,934.6 1894.3,932.3 1895.1,932.6 1895.9,927.8 1896.7,930.5 1897.5,938.5 1898.3,938.6 1899.1,935.5 1899.9,941.9 1900.7,935.9 1901.5,941.4 1902.3,934.1 1903.1,935.2 1903.9,935.2 1904.7,935.7 1905.5,937.9 1906.3,940.1 1907.1,942.7 1907.9,941.0 1908.7,936.9 1909.5,942.8 1910.3,943.3 1911.1,941.4 1911.9,941.3 1912.7,945.9 1913.5,943.2 1914.3,945.1 1915.1,945.9 1915.9,939.9 1916.7,936.3 1917.5,938.4 1918.3,944.7 1919.1,944.0 1919.9,938.2 1920.7,942.6 1921.5,943.0 1922.3,936.5 1923.1,938.0 1923.9,939.6 1924.7,941.6 1925.5,940.2 1926.3,942.2 1927.1,944.2 1927.9,935.6 1928.7,944.5 1929.5,941.5 1930.3,938.7 1931.1,939.5 1931.9,946.1 1932.7,941.9 1933.5,946.4 1934.3,942.9 1935.1,941.7 1935.9,941.0 1936.7,946.5 1937.5,945.8 1938.3,948.8 1939.1,946.3 1939.9,944.5 1940.7,943.8 1941.5,940.3 1942.3,946.6 1943.1,938.1 1943.9,945.6 1944.7,943.8 1945.5,946.9 1946.3,938.3 1947.1,934.2 1947.9,940.1 1948.7,944.5 1949.5,940.0 1950.3,939.7 1951.1,943.0 1951.9,938.4 1952.7,942.7 1953.5,943.4 1954.3,946.9 1955.1,942.4 1955.9,946.4 1956.7,941.4 1957.5,941.8 1958.3,941.7 1959.1,938.9 1959.9,940.4 1960.7,945.2 1961.5,946.1 1962.3,942.2 1963.1,939.3 1963.9,940.1 1964.7,947.2 1965.5,946.8 1966.3,938.2 1967.1,942.9 1967.9,942.1"/>
<polyline fill="none" stroke="#00b050" stroke-width="9.2" stroke-linejoin="round" stroke-linecap="butt" shape-rendering="crispEdges" points="162.3,1514.6 163.1,1514.2 163.9,1515.3 164.7,1514.5 165.5,1513.7 166.3,1514.9 167.1,1516.2 167.9,1515.7 168.7,1513.4 169.5,1512.6 170.3,1513.5 171.1,1514.5 171.9,1511.2 172.7,1514.1 173.5,1512.7 174.3,1513.4 175.1,1513.6 175.9,1514.0 176.7,1515.0 177.5,1515.8 178.3,1514.2 179.1,1516.3 179.9,1513.5 180.7,1514.9 181.5,1515.6 182.3,1514.5 183.1,1513.4 183.9,1513.1 184.7,1513.8 185.5,1514.7 186.3,1513.0 187.1,1514.1 187.9,1514.2 188.7,1515.1 189.5,1514.7 190.3,1514.9 191.1,1513.5 191.9,1514.2 192.7,1515.5 193.5,1516.5 194.3,1512.7 195.1,1516.5 195.9,1516.3 196.7,1515.5 197.5,1514.8 198.3,1514.0 199.1,1516.4 199.9,1517.1 200.7,1516.9 201.5,1516.2 202.3,1514.9 203.1,1512.7 203.9,1514.4 204.7,1515.3 205.5,1512.6 206.3,1514.9 207.1,1515.0 207.9,1515.4 208.7,1512.8 209.5,1513.5 210.3,1513.8 211.1,1512.8 211.9,1516.8 212.7,1513.7 213.5,1514.9 214.3,1514.0 215.1,1516.6 215.9,1516.2 216.7,1515.3 217.5,1511.4 218.3,1514.5 219.1,1515.3 219.9,1515.8 220.7,1513.5 221.5,1516.9 222.3,1512.6 223.1,1513.5 223.9,1515.7 224.7,1514.5 225.5,1517.2 226.3,1514.7 227.1,1513.5 227.9,1513.9 228.7,1512.9 229.5,1512.6 230.3,1515.3 231.1,1515.2 231.9,1516.2 232.7,1513.4 233.5,1516.7 234.3,1514.0 235.1,1516.6 235.9,1513.8 236.7,1513.4 237.5,1514.7 238.3,1515.8 239.1,1514.6 239.9,1513.6 240.7,1512.5 241.5,1512.5 242.3,1515.1 243.1,1515.8 243.9,1514.2 244.7,1512.9 245.5,1515.6 246.3,1512.6 247.1,1513.4 247.9,1515.3 248.7,1511.3 249.5,1514.9 250.3,1513.6 251.1,1514.6 251.9,1514.3 252.7,1514.7 253.5,1515.4 254.3,1513.4 255.1,1516.4 255.9,1515.4 256.7,1515.6 257.5,1516.0 258.3,1515.5 259.1,1515.6 259.9,1514.5 260.7,1512.4 261.5,1514.2 262.3,1513.3 263.1,1512.4 263.9,1514.8 264.7,1513.6 265.5,1513.0 266.3,1513.0 267.1,1514.8 267.9,1514.9 268.7,1516.2 269.5,1514.4 270.3,1515.8 271.1,1516.3 271.9,1516.0 272.7,1511.1 273.5,1516.1 274.3,1514.9 275.1,1515.0 275.9,1514.9 276.7,1514.9 277.5,1514.8 278.3,1513.9 279.1,1511.8 279.9,1514.2 280.7,1513.3 281.5,1515.9 282.3,1514.0 283.1,1514.5 283.9,1513.2 284.7,1513.7 285.5,1514.4 286.3,1512.3 287.1,1514.8 287.9,1514.3 288.7,1512.8 289.5,1511.1 290.3,1515.1 291.1,1514.0 291.9,1513.7 292.7,1514.1 293.5,1516.9 294.3,1514.3 295.1,1514.5 295.9,1512.3 296.7,1516.7 297.5,1515.7 298.3,1515.9 299.1,1514.5 299.9,1515.7 300.7,1514.9 301.5,1515.2 302.3,1514.2 303.1,1512.4 303.9,1515.8 304.7,1511.7 305.5,1514.1 306.3,1514.1 307.1,1513.0 307.9,1515.2 308.7,1514.1 309.5,1513.8 310.3,1515.1 311.1,1513.7 311.9,1516.3 312.7,1514.9 313.5,1513.7 314.3,1511.7 315.1,1512.6 315.9,1515.9 316.7,1514.3 317.5,1514.0 318.3,1516.7 319.1,1512.6 319.9,1513.6 320.7,1513.7 321.5,1515.2 322.3,1513.5 323.1,1513.6 323.9,1512.2 324.7,1515.4 325.5,1515.5 326.3,1513.7 327.1,1514.6 327.9,1512.6 328.7,1513.7 329.5,1516.3 330.3,1514.6 331.1,1517.6 331.9,1513.3 332.7,1515.2 333.5,1514.1 334.3,1515.2 335.1,1514.4 335.9,1513.6 336.7,1513.2 337.5,1518.6 338.3,1514.3 339.1,1511.6 339.9,1513.5 340.7,1515.3 341.5,1513.7 342.3,1516.3 343.1,1515.8 343.9,1514.2 344.7,1513.7 345.5,1513.0 346.3,1513.4 347.1,1512.4 347.9,1516.1 348.7,1516.6 349.5,1512.7 350.3,1512.8 351.1,1512.0 351.9,1513.1 352.7,1510.1 353.5,1512.8 354.3,1516.2 355.1,1513.9 355.9,1515.6 356.7,1513.7 357.5,1516.8 358.3,1514.7 359.1,1513.9 359.9,1517.9 360.7,1514.0 361.5,1512.7 362.3,1514.7 363.1,1514.3 363.9,1515.9 364.7,1513.1 365.5,1515.5 366.3,1515.6 367.1,1513.5 367.9,1514.6 368.7,1513.3 369.5,1517.6 370.3,1513.4 371.1,1513.8 371.9,1512.9 372.7,1513.9 373.5,1514.4 374.3,1515.5 375.1,1513.6 375.9,1514.1 376.7,1512.4 377.5,1513.3 378.3,1518.2 379.1,1515.8 379.9,1513.3 380.7,1512.5 381.5,1513.0 382.3,1514.4 383.1,1514.4 383.9,1513.4 384.7,1512.6 385.5,1516.4 386.3,1515.0 387.1,1513.9 387.9,1514.1 388.7,1513.7 389.5,1510.3 390.3,1514.6 391.1,1512.9 391.9,1513.0 392.7,1513.5 393.5,1515.4 394.3,1512.8 395.1,1512.4 395.9,1515.3 396.7,1515.4 397.5,1513.1 398.3,1515.2 399.1,1514.0 399.9,1514.8 400.7,1512.6 401.5,1515.5 402.3,1516.0 403.1,1515.3 403.9,1515.2 404.7,1509.9 405.5,1514.7 406.3,1514.3 407.1,1514.2 407.9,1513.5 408.7,1514.4 409.5,1514.9 410.3,1514.0 411.1,1513.7 411.9,1516.1 412.7,1512.8 413.5,1515.8 414.3,1514.6 415.1,1513.2 415.9,1514.0 416.7,1513.1 417.5,1515.3 418.3,1514.8 419.1,1513.6 419.9,1512.8 420.7,1514.8 421.5,1515.7 422.3,1514.2 423.1,1514.9 423.9,1513.8 424.7,1514.4 425.5,1513.9 426.3,1514.7 427.1,1512.2 427.9,1515.2 428.7,1514.0 429.5,1514.8 430.3,1513.9 431.1,1514.8 431.9,1512.8 432.7,1516.0 433.5,1512.0 434.3,1512.9 435.1,1514.6 435.9,1516.3 436.7,1514.7 437.5,1514.0 438.3,1512.3 439.1,1514.0 439.9,1514.3 440.7,1516.6 441.5,1515.2 442.3,1512.2 443.1,1517.1 443.9,1513.7 444.7,1513.1 445.5,1516.3 446.3,1514.2 447.1,1513.8 447.9,1514.6 448.7,1515.5 449.5,1515.7 450.3,1512.4 451.1,1517.0 451.9,1515.6 452.7,1513.7 453.5,1513.1 454.3,1512.9 455.1,1514.4 455.9,1513.4 456.7,1513.2 457.5,1515.4 458.3,1514.8 459.1,1513.7 459.9,1515.3 460.7,1516.1 461.5,1512.7 462.3,1513.4 463.1,1515.5 463.9,1515.2 464.7,1514.5 465.5,1515.8 466.3,1512.7 467.1,1512.1 467.9,1513.0 468.7,1514.4 469.5,1513.1 470.3,1513.5 471.1,1512.8 471.9,1513.3 472.7,1512.8 473.5,1514.7 474.3,1515.3 475.1,1513.5 475.9,1513.9 476.7,1513.4 477.5,1514.9 478.3,1514.3 479.1,1516.4 479.9,1512.6 480.7,1514.7 481.5,1514.8 482.3,1513.6 483.1,1515.0 483.9,1512.1 484.7,1517.1 485.5,1512.3 486.3,1515.4 487.1,1512.6 487.9,1515.7 488.7,1513.6 489.5,1514.3 490.3,1514.2 491.1,1515.6 491.9,1513.6 492.7,1509.9 493.5,1513.0 494.3,1514.3 495.1,1513.5 495.9,1515.2 496.7,1515.5 497.5,1513.9 498.3,1512.0 499.1,1516.0 499.9,1515.6 500.7,1513.6 501.5,1517.0 502.3,1513.6 503.1,1512.4 503.9,1513.8 504.7,1515.5 505.5,1512.7 506.3,1516.8 507.1,1512.8 507.9,1515.4 508.7,1514.8 509.5,1513.8 510.3,1515.5 511.1,1511.9 511.9,1515.9 512.7,1513.9 513.5,1513.2 514.3,1515.0 515.1,1515.5 515.9,1515.0 516.7,1516.8 517.5,1515.5 518.3,1515.8 519.1,1513.2 519.9,1514.1 520.7,1514.7 521.5,1513.9 522.3,1514.4 523.1,1514.5 523.9,1515.1 524.7,1513.8 525.5,1513.4 526.3,1512.7 527.1,1512.6 527.9,1515.5 528.7,1513.8 529.5,1515.0 530.3,1512.0 531.1,1511.1 531.9,1512.4 532.7,1515.5 533.5,1515.4 534.3,1514.3 535.1,1512.7 535.9,1513.6 536.7,1513.4 537.5,1513.3 538.3,1510.3 539.1,1512.6 539.9,1513.5 540.7,1515.9 541.5,1514.0 542.3,1515.8 543.1,1513.2 543.9,1513.4 544.7,1509.2 545.5,1514.4 546.3,1514.5 547.1,1516.3 547.9,1513.1 548.7,1513.9 549.5,1512.7 550.3,1512.1 551.1,1512.7 551.9,1513.2 552.7,1515.6 553.5,1513.7 554.3,1512.6 555.1,1513.9 555.9,1514.0 556.7,1512.7 557.5,1515.3 558.3,1511.0 559.1,1513.3 559.9,1514.6 560.7,1511.7 561.5,1514.1 562.3,1515.4 563.1,1514.2 563.9,1511.2 564.7,1512.5 565.5,1515.3 566.3,1513.9 567.1,1513.5 567.9,1514.1 568.7,1514.5 569.5,1512.4 570.3,1513.0 571.1,1513.6 571.9,1512.6 572.7,1513.2 573.5,1515.2 574.3,1511.9 575.1,1516.1 575.9,1516.0 576.7,1510.8 577.5,1513.0 578.3,1513.7 579.1,1512.1 579.9,1512.1 580.7,1512.8 581.5,1514.2 582.3,1512.3 583.1,1515.7 583.9,1513.4 584.7,1512.8 585.5,1515.1 586.3,1513.8 587.1,1513.4 587.9,1512.4 588.7,1515.5 589.5,1514.0 590.3,1512.4 591.1,1510.4 591.9,1513.2 592.7,1511.0 593.5,1510.1 594.3,1512.2 595.1,1513.0 595.9,1514.4 596.7,1512.9 597.5,1513.6 598.3,1510.6 599.1,1512.3 599.9,1512.5 600.7,1513.6 601.5,1512.4 602.3,1513.4 603.1,1511.4 603.9,1512.6 604.7,1512.7 605.5,1510.1 606.3,1512.2 607.1,1511.5 607.9,1509.0 608.7,1513.3 609.5,1511.3 610.3,1510.5 611.1,1511.1 611.9,1511.9 612.7,1513.9 613.5,1511.3 614.3,1512.3 615.1,1513.6 615.9,1512.3 616.7,1513.0 617.5,1510.6 618.3,1512.5 619.1,1511.2 619.9,1512.9 620.7,1509.6 621.5,1509.9 622.3,1513.0 623.1,1510.7 623.9,1510.4 624.7,1511.0 625.5,1509.8 626.3,1512.9 627.1,1508.8 627.9,1510.5 628.7,1511.2 629.5,1510.4 630.3,1509.3 631.1,1509.1 631.9,1511.1 632.7,1508.8 633.5,1511.4 634.3,1507.9 635.1,1509.4 635.9,1510.3 636.7,1508.1 637.5,1511.1 638.3,1510.0 639.1,1508.3 639.9,1507.5 640.7,1507.3 641.5,1509.9 642.3,1507.9 643.1,1507.5 643.9,1509.2 644.7,1513.2 645.5,1509.9 646.3,1510.6 647.1,1509.6 647.9,1510.5 648.7,1506.9 649.5,1508.3 650.3,1509.4 651.1,1508.8 651.9,1508.4 652.7,1507.5 653.5,1508.1 654.3,1507.1 655.1,1504.2 655.9,1506.1 656.7,1508.8 657.5,1510.5 658.3,1510.8 659.1,1507.7 659.9,1509.0 660.7,1508.8 661.5,1505.9 662.3,1504.0 663.1,1506.8 663.9,1503.5 664.7,1505.8 665.5,1507.2 666.3,1503.3 667.1,1505.4 667.9,1507.1 668.7,1504.9 669.5,1504.5 670.3,1504.4 671.1,1505.2 671.9,1501.1 672.7,1502.3 673.5,1498.6 674.3,1496.5 675.1,1497.2 675.9,1494.0 676.7,1492.8 677.5,1491.2 678.3,1485.6 679.1,1489.4 679.9,1484.0 680.7,1484.7 681.5,1486.4 682.3,1478.8 683.1,1476.2 683.9,1478.8 684.7,1473.5 685.5,1471.4 686.3,1463.8 687.1,1463.3 687.9,1454.6 688.7,1450.3 689.5,1450.0 690.3,1440.5 691.1,1439.7 691.9,1440.0 692.7,1418.3 693.5,1416.5 694.3,1419.6 695.1,1410.7 695.9,1413.2 696.7,1401.3 697.5,1404.5 698.3,1399.7 699.1,1398.1 699.9,1395.6 700.7,1384.5 701.5,1380.5 702.3,1387.3 703.1,1377.2 703.9,1371.5 704.7,1366.3 705.5,1364.3 706.3,1352.5 707.1,1349.2 707.9,1357.0 708.7,1347.1 709.5,1347.1 710.3,1335.9 711.1,1343.4 711.9,1335.1 712.7,1333.6 713.5,1332.1 714.3,1323.1 715.1,1315.8 715.9,1318.8 716.7,1332.6 717.5,1329.3 718.3,1318.6 719.1,1318.3 719.9,1327.2 720.7,1323.1 721.5,1319.5 722.3,1336.6 723.1,1335.7 723.9,1323.4 724.7,1339.4 725.5,1346.6 726.3,1353.9 727.1,1358.1 727.9,1360.4 728.7,1369.1 729.5,1377.0 730.3,1379.7 731.1,1383.8 731.9,1395.4 732.7,1389.4 733.5,1395.9 734.3,1392.2 735.1,1406.9 735.9,1411.5 736.7,1413.5 737.5,1418.1 738.3,1419.2 739.1,1421.7 739.9,1425.1 740.7,1425.0 741.5,1433.5 742.3,1430.5 743.1,1429.3 743.9,1440.8 744.7,1447.2 745.5,1439.8 746.3,1445.5 747.1,1446.0 747.9,1449.4 748.7,1453.0 749.5,1450.6 750.3,1455.5 751.1,1453.0 751.9,1457.0 752.7,1456.1 753.5,1457.5 754.3,1456.4 755.1,1466.6 755.9,1465.3 756.7,1458.7 757.5,1463.5 758.3,1464.1 759.1,1464.7 759.9,1463.1 760.7,1470.2 761.5,1467.3 762.3,1470.2 763.1,1470.7 763.9,1473.4 764.7,1464.0 765.5,1474.5 766.3,1473.0 767.1,1470.7 767.9,1475.8 768.7,1468.8 769.5,1470.2 770.3,1464.9 771.1,1469.9 771.9,1466.2 772.7,1463.5 773.5,1470.6 774.3,1462.2 775.1,1462.3 775.9,1460.7 776.7,1457.9 777.5,1461.0 778.3,1460.7 779.1,1458.5 779.9,1448.6 780.7,1458.7 781.5,1453.2 782.3,1449.4 783.1,1454.6 783.9,1453.6 784.7,1447.4 785.5,1458.6 786.3,1445.2 787.1,1442.5 787.9,1443.7 788.7,1451.8 789.5,1445.4 790.3,1443.8 791.1,1444.1 791.9,1441.3 792.7,1440.1 793.5,1439.4 794.3,1443.4 795.1,1443.7 795.9,1435.3 796.7,1439.2 797.5,1440.5 798.3,1432.8 799.1,1434.1 799.9,1431.4 800.7,1429.7 801.5,1434.2 802.3,1430.3 803.1,1434.9 803.9,1431.7 804.7,1432.8 805.5,1429.4 806.3,1427.4 807.1,1428.9 807.9,1428.5 808.7,1425.2 809.5,1429.0 810.3,1429.7 811.1,1426.9 811.9,1432.6 812.7,1423.0 813.5,1427.3 814.3,1423.4 815.1,1425.8 815.9,1421.4 816.7,1429.0 817.5,1425.2 818.3,1429.1 819.1,1419.3 819.9,1422.3 820.7,1420.6 821.5,1422.0 822.3,1421.3 823.1,1423.5 823.9,1423.9 824.7,1423.7 825.5,1421.6 826.3,1424.4 827.1,1427.0 827.9,1419.8 828.7,1423.3 829.5,1422.8 830.3,1424.7 831.1,1422.2 831.9,1422.1 832.7,1417.7 833.5,1421.2 834.3,1416.9 835.1,1422.0 835.9,1418.8 836.7,1418.7 837.5,1414.1 838.3,1420.2 839.1,1418.9 839.9,1418.7 840.7,1423.4 841.5,1413.0 842.3,1417.2 843.1,1410.6 843.9,1411.7 844.7,1410.4 845.5,1408.6 846.3,1408.7 847.1,1402.7 847.9,1402.3 848.7,1402.4 849.5,1405.5 850.3,1391.7 851.1,1384.8 851.9,1388.1 852.7,1387.9 853.5,1384.9 854.3,1380.7 855.1,1381.9 855.9,1376.7 856.7,1367.4 857.5,1360.9 858.3,1357.3 859.1,1353.2 859.9,1350.0 860.7,1339.2 861.5,1341.3 862.3,1337.7 863.1,1335.2 863.9,1330.9 864.7,1331.9 865.5,1320.9 866.3,1316.8 867.1,1317.3 867.9,1307.4 868.7,1304.0 869.5,1299.8 870.3,1290.9 871.1,1281.8 871.9,1270.4 872.7,1266.7 873.5,1253.9 874.3,1238.4 875.1,1228.2 875.9,1207.7 876.7,1196.5 877.5,1177.8 878.3,1174.7 879.1,1178.0 879.9,1152.4 880.7,1150.8 881.5,1132.7 882.3,1114.8 883.1,1118.6 883.9,1100.3 884.7,1068.9 885.5,1078.9 886.3,1048.1 887.1,1043.4 887.9,1040.4 888.7,1024.0 889.5,1029.6 890.3,1020.4 891.1,994.1 891.9,998.5 892.7,999.8 893.5,986.3 894.3,982.8 895.1,984.1 895.9,971.3 896.7,952.2 897.5,956.6 898.3,946.4 899.1,941.1 899.9,943.9 900.7,960.4 901.5,961.7 902.3,967.0 903.1,961.9 903.9,976.3 904.7,973.9 905.5,980.4 906.3,993.2 907.1,988.7 907.9,1014.0 908.7,1037.5 909.5,1027.8 910.3,1023.5 911.1,1040.3 911.9,1041.4 912.7,1064.2 913.5,1084.4 914.3,1097.2 915.1,1096.1 915.9,1118.7 916.7,1137.3 917.5,1153.8 918.3,1147.0 919.1,1157.8 919.9,1176.5 920.7,1167.1 921.5,1196.5 922.3,1211.3 923.1,1223.6 923.9,1229.1 924.7,1249.0 925.5,1254.1 926.3,1270.7 927.1,1266.2 927.9,1275.6 928.7,1281.4 929.5,1292.1 930.3,1280.4 931.1,1302.0 931.9,1319.1 932.7,1324.5 933.5,1329.4 934.3,1348.2 935.1,1355.2 935.9,1358.3 936.7,1359.5 937.5,1366.8 938.3,1373.9 939.1,1376.0 939.9,1376.1 940.7,1386.4 941.5,1394.5 942.3,1397.4 943.1,1404.0 943.9,1409.2 944.7,1416.9 945.5,1426.3 946.3,1424.0 947.1,1419.1 947.9,1417.5 948.7,1430.6 949.5,1434.2 950.3,1432.6 951.1,1440.7 951.9,1439.6 952.7,1446.3 953.5,1446.1 954.3,1450.8 955.1,1445.6 955.9,1451.9 956.7,1454.5 957.5,1451.9 958.3,1464.1 959.1,1457.6 959.9,1465.1 960.7,1459.8 961.5,1462.4 962.3,1467.9 963.1,1466.3 963.9,1467.0 964.7,1468.2 965.5,1464.3 966.3,1468.2 967.1,1467.5 967.9,1471.8 968.7,1470.6 969.5,1473.0 970.3,1473.8 971.1,1474.9 971.9,1475.8 972.7,1475.0 973.5,1474.8 974.3,1476.7 975.1,1482.3 975.9,1481.2 976.7,1482.6 977.5,1485.5 978.3,1479.6 979.1,1484.7 979.9,1481.4 980.7,1484.0 981.5,1486.8 982.3,1490.3 983.1,1485.0 983.9,1487.3 984.7,1491.0 985.5,1485.2 986.3,1490.3 987.1,1489.3 987.9,1488.5 988.7,1491.5 989.5,1493.1 990.3,1490.2 991.1,1493.7 991.9,1493.8 992.7,1491.1 993.5,1497.8 994.3,1497.3 995.1,1493.4 995.9,1494.4 996.7,1497.8 997.5,1495.4 998.3,1492.8 999.1,1499.3 999.9,1497.3 1000.7,1501.6 1001.5,1498.5 1002.3,1498.4 1003.1,1504.3 1003.9,1498.1 1004.7,1496.7 1005.5,1499.4 1006.3,1501.4 1007.1,1496.9 1007.9,1497.6 1008.7,1500.6 1009.5,1493.3 1010.3,1497.8 1011.1,1501.8 1011.9,1499.1 1012.7,1497.2 1013.5,1504.5 1014.3,1498.0 1015.1,1499.9 1015.9,1500.3 1016.7,1501.4 1017.5,1500.6 1018.3,1501.3 1019.1,1501.7 1019.9,1501.6 1020.7,1502.1 1021.5,1497.4 1022.3,1503.0 1023.1,1499.6 1023.9,1498.3 1024.7,1505.2 1025.5,1500.3 1026.3,1503.2 1027.1,1501.5 1027.9,1501.9 1028.7,1504.2 1029.5,1501.4 1030.3,1504.3 1031.1,1504.4 1031.9,1506.0 1032.7,1503.3 1033.5,1506.1 1034.3,1507.4 1035.1,1507.3 1035.9,1505.6 1036.7,1505.5 1037.5,1510.0 1038.3,1509.0 1039.1,1503.6 1039.9,1506.8 1040.7,1506.4 1041.5,1505.5 1042.3,1505.8 1043.1,1506.5 1043.9,1507.4 1044.7,1506.3 1045.5,1506.6 1046.3,1508.6 1047.1,1506.8 1047.9,1507.3 1048.7,1508.2 1049.5,1509.4 1050.3,1508.8 1051.1,1507.4 1051.9,1507.2 1052.7,1504.8 1053.5,1507.6 1054.3,1505.4 1055.1,1505.5 1055.9,1508.5 1056.7,1507.3 1057.5,1508.4 1058.3,1506.6 1059.1,1509.8 1059.9,1508.1 1060.7,1510.0 1061.5,1509.2 1062.3,1508.4 1063.1,1507.4 1063.9,1508.4 1064.7,1509.8 1065.5,1509.7 1066.3,1506.6 1067.1,1510.4 1067.9,1508.4 1068.7,1510.2 1069.5,1507.8 1070.3,1510.1 1071.1,1507.8 1071.9,1509.5 1072.7,1508.8 1073.5,1509.0 1074.3,1508.6 1075.1,1509.4 1075.9,1506.9 1076.7,1511.2 1077.5,1511.4 1078.3,1509.2 1079.1,1507.8 1079.9,1509.1 1080.7,1511.7 1081.5,1511.3 1082.3,1509.9 1083.1,1511.9 1083.9,1508.9 1084.7,1509.7 1085.5,1511.5 1086.3,1510.6 1087.1,1510.0 1087.9,1507.0 1088.7,1512.1 1089.5,1511.6 1090.3,1508.5 1091.1,1512.2 1091.9,1511.3 1092.7,1511.8 1093.5,1512.9 1094.3,1510.4 1095.1,1512.7 1095.9,1512.7 1096.7,1512.9 1097.5,1514.3 1098.3,1512.9 1099.1,1511.1 1099.9,1514.7 1100.7,1510.4 1101.5,1511.4 1102.3,1510.8 1103.1,1512.1 1103.9,1513.9 1104.7,1514.3 1105.5,1513.1 1106.3,1511.6 1107.1,1511.7 1107.9,1511.7 1108.7,1514.0 1109.5,1511.3 1110.3,1514.0 1111.1,1512.7 1111.9,1513.0 1112.7,1515.0 1113.5,1512.2 1114.3,1515.3 1115.1,1510.9 1115.9,1511.8 1116.7,1510.7 1117.5,1511.9 1118.3,1513.9 1119.1,1514.1 1119.9,1513.5 1120.7,1513.5 1121.5,1511.4 1122.3,1511.2 1123.1,1513.6 1123.9,1515.2 1124.7,1512.7 1125.5,1511.4 1126.3,1511.1 1127.1,1512.3 1127.9,1515.6 1128.7,1513.1 1129.5,1511.9 1130.3,1512.5 1131.1,1512.7 1131.9,1513.8 1132.7,1512.5 1133.5,1512.2 1134.3,1513.2 1135.1,1514.2 1135.9,1514.6 1136.7,1514.4 1137.5,1513.0 1138.3,1511.2 1139.1,1512.5 1139.9,1514.1 1140.7,1511.8 1141.5,1514.1 1142.3,1512.9 1143.1,1512.9 1143.9,1515.4 1144.7,1514.1 1145.5,1515.7 1146.3,1512.5 1147.1,1515.4 1147.9,1515.1 1148.7,1509.7 1149.5,1513.8 1150.3,1516.1 1151.1,1515.0 1151.9,1513.3 1152.7,1513.6 1153.5,1512.2 1154.3,1514.3 1155.1,1511.5 1155.9,1512.6 1156.7,1515.6 1157.5,1514.0 1158.3,1513.6 1159.1,1513.9 1159.9,1517.9 1160.7,1515.6 1161.5,1513.1 1162.3,1516.5 1163.1,1514.0 1163.9,1515.2 1164.7,1513.4 1165.5,1512.9 1166.3,1515.3 1167.1,1513.2 1167.9,1513.1 1168.7,1515.5 1169.5,1512.6 1170.3,1512.3 1171.1,1515.0 1171.9,1511.6 1172.7,1513.3 1173.5,1513.8 1174.3,1512.4 1175.1,1512.8 1175.9,1515.3 1176.7,1514.7 1177.5,1513.0 1178.3,1515.1 1179.1,1516.5 1179.9,1512.6 1180.7,1514.5 1181.5,1517.1 1182.3,1515.2 1183.1,1515.5 1183.9,1514.1 1184.7,1513.3 1185.5,1516.0 1186.3,1515.3 1187.1,1514.3 1187.9,1513.8 1188.7,1512.0 1189.5,1514.6 1190.3,1513.4 1191.1,1514.2 1191.9,1515.3 1192.7,1515.5 1193.5,1515.4 1194.3,1517.5 1195.1,1516.0 1195.9,1513.4 1196.7,1513.3 1197.5,1517.6 1198.3,1513.5 1199.1,1514.3 1199.9,1516.8 1200.7,1516.7 1201.5,1514.3 1202.3,1514.7 1203.1,1512.1 1203.9,1513.1 1204.7,1513.8 1205.5,1514.3 1206.3,1513.9 1207.1,1514.5 1207.9,1517.4 1208.7,1514.9 1209.5,1514.7 1210.3,1514.3 1211.1,1514.0 1211.9,1516.0 1212.7,1512.9 1213.5,1514.1 1214.3,1512.7 1215.1,1514.3 1215.9,1514.4 1216.7,1515.5 1217.5,1515.9 1218.3,1515.1 1219.1,1516.4 1219.9,1516.4 1220.7,1514.6 1221.5,1514.6 1222.3,1511.4 1223.1,1514.5 1223.9,1514.1 1224.7,1511.7 1225.5,1513.5 1226.3,1515.4 1227.1,1512.3 1227.9,1515.8 1228.7,1514.7 1229.5,1513.7 1230.3,1513.8 1231.1,1515.1 1231.9,1511.9 1232.7,1516.8 1233.5,1512.8 1234.3,1512.8 1235.1,1515.6 1235.9,1515.0 1236.7,1515.7 1237.5,1515.3 1238.3,1514.4 1239.1,1512.0 1239.9,1513.1 1240.7,1514.1 1241.5,1513.7 1242.3,1510.8 1243.1,1515.2 1243.9,1516.2 1244.7,1515.8 1245.5,1512.2 1246.3,1514.3 1247.1,1510.6 1247.9,1516.0 1248.7,1510.9 1249.5,1514.2 1250.3,1515.2 1251.1,1515.4 1251.9,1514.0 1252.7,1511.5 1253.5,1513.4 1254.3,1513.1 1255.1,1514.0 1255.9,1514.9 1256.7,1514.4 1257.5,1516.5 1258.3,1514.4 1259.1,1512.9 1259.9,1515.7 1260.7,1512.9 1261.5,1513.8 1262.3,1513.6 1263.1,1510.0 1263.9,1513.7 1264.7,1513.7 1265.5,1513.0 1266.3,1513.1 1267.1,1511.4 1267.9,1513.4 1268.7,1515.4 1269.5,1513.0 1270.3,1512.5 1271.1,1512.3 1271.9,1516.1 1272.7,1511.2 1273.5,1514.4 1274.3,1513.3 1275.1,1515.9 1275.9,1515.1 1276.7,1513.0 1277.5,1510.9 1278.3,1515.2 1279.1,1515.2 1279.9,1511.5 1280.7,1514.2 1281.5,1511.9 1282.3,1512.0 1283.1,1510.7 1283.9,1514.4 1284.7,1513.5 1285.5,1513.8 1286.3,1515.2 1287.1,1514.0 1287.9,1513.9 1288.7,1514.1 1289.5,1511.5 1290.3,1513.0 1291.1,1511.3 1291.9,1511.7 1292.7,1512.9 1293.5,1514.6 1294.3,1516.0 1295.1,1511.4 1295.9,1513.3 1296.7,1512.9 1297.5,1513.8 1298.3,1513.9 1299.1,1513.6 1299.9,1511.7 1300.7,1513.7 1301.5,1514.5 1302.3,1512.5 1303.1,1516.2 1303.9,1513.1 1304.7,1512.6 1305.5,1514.0 1306.3,1513.3 1307.1,1511.7 1307.9,1513.7 1308.7,1516.0 1309.5,1516.5 1310.3,1512.8 1311.1,1514.8 1311.9,1513.7 1312.7,1513.8 1313.5,1515.1 1314.3,1514.4 1315.1,1513.2 1315.9,1511.5 1316.7,1511.0 1317.5,1512.4 1318.3,1512.8 1319.1,1512.8 1319.9,1513.1 1320.7,1513.2 1321.5,1507.8 1322.3,1512.7 1323.1,1509.4 1323.9,1512.6 1324.7,1511.1 1325.5,1511.4 1326.3,1509.3 1327.1,1510.4 1327.9,1506.7 1328.7,1511.3 1329.5,1508.8 1330.3,1504.9 1331.1,1510.7 1331.9,1511.5 1332.7,1507.0 1333.5,1510.2 1334.3,1506.6 1335.1,1503.8 1335.9,1506.7 1336.7,1507.6 1337.5,1507.0 1338.3,1506.6 1339.1,1506.7 1339.9,1506.2 1340.7,1505.2 1341.5,1504.2 1342.3,1504.5 1343.1,1504.0 1343.9,1503.9 1344.7,1502.1 1345.5,1502.9 1346.3,1503.8 1347.1,1504.0 1347.9,1503.1 1348.7,1502.7 1349.5,1504.0 1350.3,1504.4 1351.1,1504.0 1351.9,1499.3 1352.7,1501.7 1353.5,1503.9 1354.3,1503.5 1355.1,1503.8 1355.9,1503.0 1356.7,1500.7 1357.5,1504.7 1358.3,1499.7 1359.1,1504.2 1359.9,1502.2 1360.7,1499.3 1361.5,1501.4 1362.3,1504.5 1363.1,1501.0 1363.9,1499.7 1364.7,1501.5 1365.5,1500.4 1366.3,1499.6 1367.1,1502.8 1367.9,1503.5 1368.7,1500.9 1369.5,1503.0 1370.3,1501.2 1371.1,1501.7 1371.9,1502.2 1372.7,1504.8 1373.5,1502.9 1374.3,1499.9 1375.1,1502.9 1375.9,1501.5 1376.7,1501.1 1377.5,1500.4 1378.3,1502.0 1379.1,1502.0 1379.9,1501.5 1380.7,1499.6 1381.5,1499.2 1382.3,1502.8 1383.1,1503.0 1383.9,1507.0 1384.7,1502.6 1385.5,1505.1 1386.3,1505.6 1387.1,1503.3 1387.9,1503.8 1388.7,1503.0 1389.5,1507.3 1390.3,1501.3 1391.1,1504.3 1391.9,1507.1 1392.7,1504.5 1393.5,1503.8 1394.3,1505.5 1395.1,1506.2 1395.9,1506.4 1396.7,1506.1 1397.5,1507.1 1398.3,1507.6 1399.1,1504.1 1399.9,1505.5 1400.7,1507.9 1401.5,1507.4 1402.3,1507.1 1403.1,1508.0 1403.9,1508.6 1404.7,1505.6 1405.5,1505.1 1406.3,1505.4 1407.1,1510.8 1407.9,1506.0 1408.7,1507.5 1409.5,1507.8 1410.3,1510.0 1411.1,1505.5 1411.9,1508.5 1412.7,1510.8 1413.5,1510.8 1414.3,1509.8 1415.1,1508.9 1415.9,1512.3 1416.7,1506.9 1417.5,1511.4 1418.3,1510.8 1419.1,1511.1 1419.9,1510.8 1420.7,1510.8 1421.5,1512.1 1422.3,1509.0 1423.1,1509.0 1423.9,1511.4 1424.7,1511.4 1425.5,1511.7 1426.3,1514.0 1427.1,1510.8 1427.9,1513.0 1428.7,1512.5 1429.5,1515.7 1430.3,1510.1 1431.1,1511.5 1431.9,1511.8 1432.7,1514.5 1433.5,1511.4 1434.3,1515.2 1435.1,1515.2 1435.9,1514.2 1436.7,1513.6 1437.5,1510.7 1438.3,1513.3 1439.1,1511.1 1439.9,1512.7 1440.7,1513.5 1441.5,1512.9 1442.3,1514.7 1443.1,1513.2 1443.9,1511.3 1444.7,1512.0 1445.5,1511.8 1446.3,1513.2 1447.1,1515.5 1447.9,1514.5 1448.7,1514.3 1449.5,1512.1 1450.3,1517.3 1451.1,1513.9 1451.9,1517.4 1452.7,1512.9 1453.5,1513.3 1454.3,1517.8 1455.1,1512.7 1455.9,1514.9 1456.7,1513.9 1457.5,1513.2 1458.3,1517.4 1459.1,1513.1 1459.9,1515.7 1460.7,1516.1 1461.5,1513.2 1462.3,1512.0 1463.1,1512.2 1463.9,1513.6 1464.7,1515.1 1465.5,1515.3 1466.3,1514.6 1467.1,1514.7 1467.9,1516.2 1468.7,1516.0 1469.5,1515.5 1470.3,1514.2 1471.1,1516.1 1471.9,1515.3 1472.7,1514.1 1473.5,1514.4 1474.3,1516.8 1475.1,1517.7 1475.9,1514.5 1476.7,1512.4 1477.5,1516.1 1478.3,1514.1 1479.1,1516.3 1479.9,1514.8 1480.7,1518.4 1481.5,1515.5 1482.3,1516.6 1483.1,1513.8 1483.9,1511.6 1484.7,1515.6 1485.5,1515.8 1486.3,1516.4 1487.1,1514.7 1487.9,1513.7 1488.7,1513.3 1489.5,1516.2 1490.3,1516.5 1491.1,1514.3 1491.9,1514.8 1492.7,1514.5 1493.5,1512.9 1494.3,1515.8 1495.1,1516.6 1495.9,1515.2 1496.7,1513.6 1497.5,1515.2 1498.3,1517.3 1499.1,1518.4 1499.9,1515.9 1500.7,1514.4 1501.5,1512.8 1502.3,1513.4 1503.1,1515.4 1503.9,1515.8 1504.7,1515.8 1505.5,1515.1 1506.3,1513.4 1507.1,1513.4 1507.9,1515.7 1508.7,1514.4 1509.5,1517.3 1510.3,1513.5 1511.1,1517.8 1511.9,1514.6 1512.7,1515.8 1513.5,1515.8 1514.3,1515.0 1515.1,1512.8 1515.9,1514.8 1516.7,1517.6 1517.5,1513.8 1518.3,1513.0 1519.1,1515.2 1519.9,1514.9 1520.7,1513.8 1521.5,1514.5 1522.3,1514.9 1523.1,1514.9 1523.9,1515.7 1524.7,1516.5 1525.5,1516.0 1526.3,1516.0 1527.1,1517.8 1527.9,1517.0 1528.7,1511.6 1529.5,1515.0 1530.3,1513.4 1531.1,1514.6 1531.9,1516.5 1532.7,1515.2 1533.5,1514.9 1534.3,1517.3 1535.1,1513.5 1535.9,1515.4 1536.7,1516.2 1537.5,1515.5 1538.3,1513.9 1539.1,1515.5 1539.9,1516.6 1540.7,1516.0 1541.5,1515.9 1542.3,1515.9 1543.1,1515.7 1543.9,1513.8 1544.7,1515.1 1545.5,1516.1 1546.3,1511.3 1547.1,1516.5 1547.9,1516.0 1548.7,1514.0 1549.5,1514.5 1550.3,1515.2 1551.1,1516.1 1551.9,1515.0 1552.7,1517.1 1553.5,1516.1 1554.3,1514.4 1555.1,1514.9 1555.9,1515.8 1556.7,1516.5 1557.5,1516.4 1558.3,1515.4 1559.1,1515.7 1559.9,1515.5 1560.7,1516.6 1561.5,1514.2 1562.3,1516.3 1563.1,1513.0 1563.9,1516.1 1564.7,1515.8 1565.5,1515.5 1566.3,1512.6 1567.1,1517.6 1567.9,1516.7 1568.7,1515.5 1569.5,1516.1 1570.3,1514.2 1571.1,1516.2 1571.9,1517.6 1572.7,1513.9 1573.5,1519.1 1574.3,1514.9 1575.1,1516.6 1575.9,1514.3 1576.7,1515.9 1577.5,1513.7 1578.3,1514.5 1579.1,1515.1 1579.9,1514.5 1580.7,1515.0 1581.5,1516.6 1582.3,1513.6 1583.1,1513.7 1583.9,1515.3 1584.7,1514.5 1585.5,1513.9 1586.3,1515.4 1587.1,1514.4 1587.9,1515.6 1588.7,1515.1 1589.5,1514.8 1590.3,1515.0 1591.1,1516.4 1591.9,1516.8 1592.7,1514.8 1593.5,1513.6 1594.3,1512.9 1595.1,1511.9 1595.9,1513.3 1596.7,1513.7 1597.5,1514.8 1598.3,1512.2 1599.1,1516.7 1599.9,1516.2 1600.7,1516.4 1601.5,1514.0 1602.3,1515.0 1603.1,1513.3 1603.9,1516.7 1604.7,1512.9 1605.5,1513.8 1606.3,1516.4 1607.1,1517.9 1607.9,1514.3 1608.7,1513.8 1609.5,1510.9 1610.3,1516.7 1611.1,1514.7 1611.9,1511.6 1612.7,1515.4 1613.5,1515.0 1614.3,1513.6 1615.1,1513.3 1615.9,1515.1 1616.7,1514.3 1617.5,1514.7 1618.3,1515.7 1619.1,1515.6 1619.9,1514.9 1620.7,1514.7 1621.5,1512.0 1622.3,1512.2 1623.1,1514.9 1623.9,1514.6 1624.7,1514.4 1625.5,1514.8 1626.3,1512.8 1627.1,1514.4 1627.9,1512.1 1628.7,1513.6 1629.5,1514.8 1630.3,1512.4 1631.1,1516.2 1631.9,1515.0 1632.7,1515.3 1633.5,1513.0 1634.3,1511.2 1635.1,1512.2 1635.9,1514.0 1636.7,1512.7 1637.5,1514.2 1638.3,1513.3 1639.1,1512.2 1639.9,1514.4 1640.7,1515.0 1641.5,1511.9 1642.3,1513.7 1643.1,1513.1 1643.9,1513.3 1644.7,1512.7 1645.5,1511.0 1646.3,1514.9 1647.1,1511.2 1647.9,1511.5 1648.7,1513.7 1649.5,1513.0 1650.3,1511.5 1651.1,1511.7 1651.9,1512.4 1652.7,1511.9 1653.5,1513.5 1654.3,1510.8 1655.1,1513.1 1655.9,1514.8 1656.7,1512.8 1657.5,1511.1 1658.3,1511.3 1659.1,1512.5 1659.9,1511.4 1660.7,1514.2 1661.5,1509.6 1662.3,1514.7 1663.1,1509.2 1663.9,1512.2 1664.7,1510.6 1665.5,1513.4 1666.3,1511.0 1667.1,1510.4 1667.9,1511.6 1668.7,1511.5 1669.5,1509.1 1670.3,1512.7 1671.1,1508.4 1671.9,1513.7 1672.7,1511.4 1673.5,1513.3 1674.3,1511.0 1675.1,1510.6 1675.9,1512.8 1676.7,1510.9 1677.5,1509.4 1678.3,1511.6 1679.1,1509.6 1679.9,1511.6 1680.7,1513.7 1681.5,1513.0 1682.3,1511.5 1683.1,1511.2 1683.9,1510.9 1684.7,1510.4 1685.5,1511.9 1686.3,1511.1 1687.1,1510.7 1687.9,1511.6 1688.7,1508.0 1689.5,1514.2 1690.3,1512.1 1691.1,1508.9 1691.9,1511.2 1692.7,1509.2 1693.5,1510.0 1694.3,1509.4 1695.1,1512.5 1695.9,1507.7 1696.7,1510.1 1697.5,1508.0 1698.3,1510.5 1699.1,1509.9 1699.9,1508.1 1700.7,1512.6 1701.5,1512.7 1702.3,1509.2 1703.1,1510.8 1703.9,1509.6 1704.7,1510.2 1705.5,1512.2 1706.3,1509.1 1707.1,1512.4 1707.9,1508.8 1708.7,1509.0 1709.5,1512.2 1710.3,1509.3 1711.1,1505.4 1711.9,1509.0 1712.7,1506.3 1713.5,1505.5 1714.3,1506.5 1715.1,1508.5 1715.9,1505.8 1716.7,1505.2 1717.5,1506.7 1718.3,1507.9 1719.1,1505.8 1719.9,1504.5 1720.7,1502.7 1721.5,1505.0 1722.3,1507.6 1723.1,1507.7 1723.9,1507.0 1724.7,1505.0 1725.5,1505.2 1726.3,1507.0 1727.1,1502.7 1727.9,1504.6 1728.7,1500.0 1729.5,1504.4 1730.3,1501.8 1731.1,1499.9 1731.9,1503.2 1732.7,1498.9 1733.5,1498.9 1734.3,1503.1 1735.1,1497.3 1735.9,1497.5 1736.7,1496.8 1737.5,1499.2 1738.3,1493.0 1739.1,1498.9 1739.9,1494.9 1740.7,1494.0 1741.5,1491.9 1742.3,1492.6 1743.1,1495.3 1743.9,1491.2 1744.7,1487.3 1745.5,1487.3 1746.3,1488.1 1747.1,1485.5 1747.9,1483.1 1748.7,1483.8 1749.5,1481.5 1750.3,1476.0 1751.1,1471.9 1751.9,1476.7 1752.7,1478.4 1753.5,1468.3 1754.3,1467.7 1755.1,1469.6 1755.9,1468.1 1756.7,1460.0 1757.5,1461.0 1758.3,1456.6 1759.1,1449.6 1759.9,1442.0 1760.7,1443.5 1761.5,1445.6 1762.3,1443.5 1763.1,1437.8 1763.9,1434.1 1764.7,1429.0 1765.5,1426.4 1766.3,1430.2 1767.1,1422.7 1767.9,1427.0 1768.7,1422.5 1769.5,1422.7 1770.3,1431.8 1771.1,1422.7 1771.9,1420.2 1772.7,1420.0 1773.5,1413.9 1774.3,1424.4 1775.1,1421.7 1775.9,1415.4 1776.7,1418.0 1777.5,1413.8 1778.3,1417.7 1779.1,1410.3 1779.9,1416.7 1780.7,1421.7 1781.5,1417.4 1782.3,1413.3 1783.1,1419.9 1783.9,1424.4 1784.7,1419.9 1785.5,1417.8 1786.3,1414.8 1787.1,1420.6 1787.9,1427.3 1788.7,1412.3 1789.5,1425.2 1790.3,1422.7 1791.1,1429.1 1791.9,1423.5 1792.7,1416.6 1793.5,1434.2 1794.3,1423.4 1795.1,1432.7 1795.9,1431.0 1796.7,1433.4 1797.5,1436.2 1798.3,1435.9 1799.1,1440.8 1799.9,1443.5 1800.7,1447.5 1801.5,1447.4 1802.3,1450.2 1803.1,1455.7 1803.9,1450.2 1804.7,1455.7 1805.5,1459.3 1806.3,1463.4 1807.1,1462.2 1807.9,1465.1 1808.7,1466.1 1809.5,1473.1 1810.3,1470.7 1811.1,1475.7 1811.9,1475.5 1812.7,1477.7 1813.5,1476.0 1814.3,1480.9 1815.1,1482.1 1815.9,1479.7 1816.7,1482.9 1817.5,1484.9 1818.3,1483.4 1819.1,1485.4 1819.9,1492.9 1820.7,1488.0 1821.5,1489.4 1822.3,1489.1 1823.1,1496.0 1823.9,1496.1 1824.7,1495.5 1825.5,1495.6 1826.3,1495.1 1827.1,1496.2 1827.9,1496.0 1828.7,1499.4 1829.5,1500.1 1830.3,1501.1 1831.1,1504.0 1831.9,1501.8 1832.7,1502.2 1833.5,1503.4 1834.3,1498.9 1835.1,1502.4 1835.9,1500.0 1836.7,1506.3 1837.5,1502.8 1838.3,1507.4 1839.1,1506.5 1839.9,1503.9 1840.7,1502.2 1841.5,1503.5 1842.3,1507.7 1843.1,1505.6 1843.9,1503.8 1844.7,1506.3 1845.5,1509.9 1846.3,1509.9 1847.1,1506.6 1847.9,1508.2 1848.7,1508.9 1849.5,1505.6 1850.3,1507.4 1851.1,1507.9 1851.9,1509.5 1852.7,1508.2 1853.5,1506.9 1854.3,1509.9 1855.1,1508.6 1855.9,1507.8 1856.7,1508.0 1857.5,1509.8 1858.3,1512.6 1859.1,1510.2 1859.9,1512.3 1860.7,1507.3 1861.5,1509.6 1862.3,1509.1 1863.1,1510.7 1863.9,1512.5 1864.7,1510.5 1865.5,1509.6 1866.3,1513.0 1867.1,1510.5 1867.9,1512.1 1868.7,1510.7 1869.5,1512.6 1870.3,1511.3 1871.1,1513.1 1871.9,1512.9 1872.7,1515.3 1873.5,1511.9 1874.3,1510.6 1875.1,1510.3 1875.9,1511.2 1876.7,1512.7 1877.5,1511.1 1878.3,1514.5 1879.1,1512.5 1879.9,1510.8 1880.7,1511.6 1881.5,1511.4 1882.3,1512.6 1883.1,1510.8 1883.9,1514.3 1884.7,1511.9 1885.5,1512.1 1886.3,1513.9 1887.1,1511.4 1887.9,1512.5 1888.7,1515.2 1889.5,1513.2 1890.3,1513.0 1891.1,1511.9 1891.9,1511.2 1892.7,1515.3 1893.5,1512.5 1894.3,1515.5 1895.1,1511.7 1895.9,1514.6 1896.7,1512.5 1897.5,1513.4 1898.3,1514.6 1899.1,1513.5 1899.9,1514.0 1900.7,1510.6 1901.5,1512.2 1902.3,1515.9 1903.1,1512.6 1903.9,1513.4 1904.7,1512.7 1905.5,1512.0 1906.3,1510.7 1907.1,1511.3 1907.9,1515.4 1908.7,1512.8 1909.5,1511.2 1910.3,1511.7 1911.1,1514.3 1911.9,1511.6 1912.7,1512.1 1913.5,1511.4 1914.3,1511.2 1915.1,1515.4 1915.9,1512.8 1916.7,1512.5 1917.5,1512.1 1918.3,1514.0 1919.1,1513.1 1919.9,1513.4 1920.7,1513.2 1921.5,1512.5 1922.3,1512.3 1923.1,1510.4 1923.9,1512.2 1924.7,1516.1 1925.5,1511.1 1926.3,1512.9 1927.1,1513.4 1927.9,1514.7 1928.7,1516.8 1929.5,1512.3 1930.3,1511.6 1931.1,1514.4 1931.9,1513.1 1932.7,1515.7 1933.5,1513.8 1934.3,1511.8 1935.1,1512.4 1935.9,1513.3 1936.7,1513.4 1937.5,1511.0 1938.3,1509.8 1939.1,1510.2 1939.9,1513.5 1940.7,1512.3 1941.5,1509.8 1942.3,1511.7 1943.1,1509.6 1943.9,1512.0 1944.7,1511.1 1945.5,1511.5 1946.3,1512.2 1947.1,1512.5 1947.9,1512.3 1948.7,1514.1 1949.5,1515.8 1950.3,1513.4 1951.1,1511.8 1951.9,1513.2 1952.7,1510.9 1953.5,1510.7 1954.3,1510.6 1955.1,1512.3 1955.9,1513.7 1956.7,1515.1 1957.5,1513.7 1958.3,1512.7 1959.1,1510.6 1959.9,1511.7 1960.7,1512.3 1961.5,1511.3 1962.3,1514.3 1963.1,1510.1 1963.9,1510.2 1964.7,1511.8 1965.5,1514.3 1966.3,1508.3 1967.1,1509.7 1967.9,1513.0"/>
</g>
<g stroke="#000" stroke-width="5.3" fill="none" shape-rendering="crispEdges">
<line x1="723.3" y1="481" x2="714.5" y2="1820"/>
<line x1="815.7" y1="1174.7" x2="822.4" y2="1787"/>
<line x1="904.8" y1="398.2" x2="903.7" y2="1791"/>
<line x1="1352.3" y1="1138" x2="1352.3" y2="1791"/>
<line x1="1783.8" y1="1114" x2="1782.7" y2="1791"/>
</g>
<g stroke="#000" stroke-width="5.3" fill="none" stroke-dasharray="28.7 17.2" stroke-linecap="round" shape-rendering="crispEdges">
<line x1="793.3" y1="79.5" x2="807.6" y2="1779"/>
<line x1="992.1" y1="451.4" x2="1009.3" y2="1786" stroke-dasharray="33.8 12.1" stroke-linecap="butt"/>
<line x1="1778.5" y1="552" x2="1768" y2="1775"/>
</g>
<line x1="816.3" y1="1284.2" x2="668" y2="1287.7" stroke="#000" stroke-width="6"/>
<polygon points="621,1287.9 672,1261 672,1312.4" fill="#000"/>
<text class="t" x="164.0" y="1907">20</text>
<text class="t" x="363.8" y="1907">25</text>
<text class="t" x="563.7" y="1907">30</text>
<text class="t" x="763.5" y="1907">35</text>
<text class="t" x="963.3" y="1907">40</text>
<text class="t" x="1163.2" y="1907">45</text>
<text class="t" x="1363.0" y="1907">50</text>
<text class="t" x="1562.8" y="1907">55</text>
<text class="t" x="1762.7" y="1907">60</text>
<text class="t" x="1962.5" y="1907">65</text>
<text class="t" x="74.8" y="1816.6">0</text>
<text class="d" x="781.7" y="83.6">δ<tspan class="s" dy="19.8">1.13</tspan><tspan dy="-19.8">(111)</tspan></text>
<text class="a" x="898.7" y="339">γ(101)</text>
<text class="d" x="990.4" y="429.2">δ<tspan class="s" dy="19.8">1.13</tspan><tspan dy="-19.8">(200)</tspan></text>
<text class="a" x="482.2" y="471.8">γ(100)</text>
<text class="d" x="1573.3" y="525.4">δ<tspan class="s" dy="19.8">1.13</tspan><tspan dy="-19.8">(220)</tspan></text>
<text class="a" x="1389.4" y="851">5%</text>
<text class="a" x="1271.7" y="1121">γ(102)</text>
<text class="a" x="1751" y="1080.3">γ(110)</text>
<text class="a" x="1445.7" y="1466">3%</text>
<text class="a" x="373.8" y="1312.4">γ(002)</text>
<text class="b" y="2050.5"><tspan x="895.3" textLength="45" lengthAdjust="spacingAndGlyphs">2</tspan><tspan x="939.9" textLength="57.5" lengthAdjust="spacingAndGlyphs">θ</tspan> <tspan x="1019.6" dy="-6.5" style="font-size:77.5px">(</tspan><tspan x="1042.8" dy="14" style="font-weight:normal;font-size:96px">°</tspan><tspan x="1079.2" dy="-14" style="font-size:77.5px">)</tspan></text>
<text class="b" transform="translate(87.8,1367.6) rotate(-90)" x="0" y="0">Intensity (arbitary units)</text>
</svg>
</body>
</html>
